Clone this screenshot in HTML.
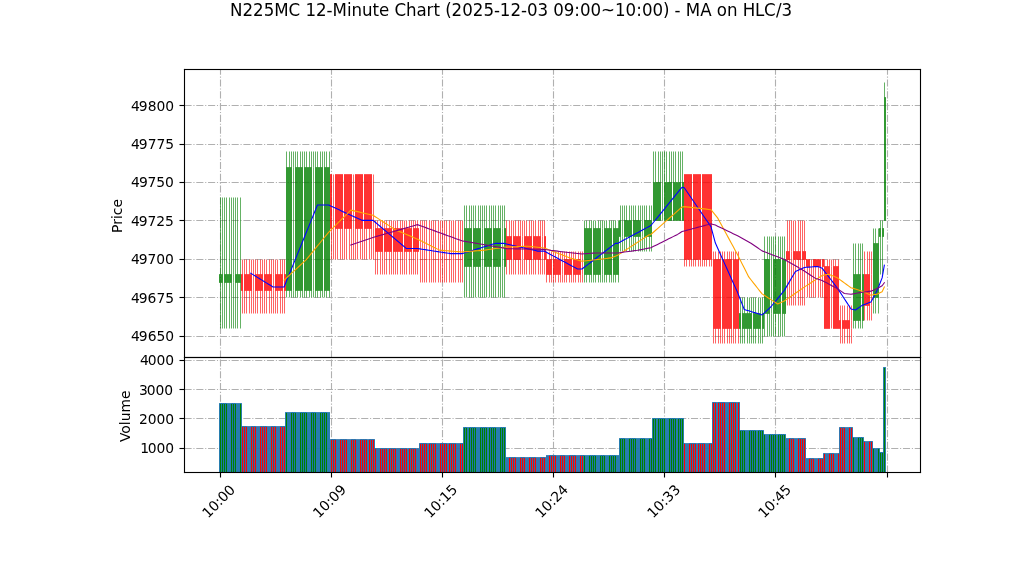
<!DOCTYPE html>
<html lang="en"><head><meta charset="utf-8"><title>N225MC 12-Minute Chart</title>
<style>
html,body{margin:0;padding:0;background:#fff;overflow:hidden}
svg{display:block;font-family:"DejaVu Sans","Liberation Sans",sans-serif}
</style></head><body>
<svg width="1022" height="575" viewBox="0 0 1022 575">
<defs><clipPath id="c1"><rect x="183.96" y="69.00" width="735.84" height="287.50"/></clipPath></defs>
<rect width="1022" height="575" fill="#fff"/>
<g id="grid" stroke="#b0b0b0" stroke-width="1.111" stroke-dasharray="7.111 1.778 1.111 1.778" fill="none"><line x1="220.5" y1="357.5" x2="220.5" y2="69.5"/><line x1="220.5" y1="472.5" x2="220.5" y2="357.5"/><line x1="331.5" y1="357.5" x2="331.5" y2="69.5"/><line x1="331.5" y1="472.5" x2="331.5" y2="357.5"/><line x1="442.5" y1="357.5" x2="442.5" y2="69.5"/><line x1="442.5" y1="472.5" x2="442.5" y2="357.5"/><line x1="553.5" y1="357.5" x2="553.5" y2="69.5"/><line x1="553.5" y1="472.5" x2="553.5" y2="357.5"/><line x1="664.5" y1="357.5" x2="664.5" y2="69.5"/><line x1="664.5" y1="472.5" x2="664.5" y2="357.5"/><line x1="775.5" y1="357.5" x2="775.5" y2="69.5"/><line x1="775.5" y1="472.5" x2="775.5" y2="357.5"/><line x1="887.5" y1="357.5" x2="887.5" y2="69.5"/><line x1="887.5" y1="472.5" x2="887.5" y2="357.5"/><line x1="184.5" y1="336.5" x2="920.5" y2="336.5"/><line x1="184.5" y1="297.5" x2="920.5" y2="297.5"/><line x1="184.5" y1="259.5" x2="920.5" y2="259.5"/><line x1="184.5" y1="220.5" x2="920.5" y2="220.5"/><line x1="184.5" y1="182.5" x2="920.5" y2="182.5"/><line x1="184.5" y1="144.5" x2="920.5" y2="144.5"/><line x1="184.5" y1="105.5" x2="920.5" y2="105.5"/><line x1="184.5" y1="448.5" x2="920.5" y2="448.5"/><line x1="184.5" y1="418.5" x2="920.5" y2="418.5"/><line x1="184.5" y1="389.5" x2="920.5" y2="389.5"/><line x1="184.5" y1="360.5" x2="920.5" y2="360.5"/></g>
<g id="candles" shape-rendering="crispEdges"><path fill="#ff6565" d="M242 260h1v14h-1zM242 291h1v22h-1zM244 261h1v13h-1zM244 291h1v5h-1zM244 299h1v14h-1zM246 261h1v13h-1zM246 291h1v5h-1zM246 299h1v14h-1zM249 261h1v13h-1zM249 291h1v5h-1zM249 299h1v14h-1zM251 260h1v14h-1zM251 291h1v22h-1zM253 261h1v13h-1zM253 275h1v15h-1zM253 291h1v5h-1zM253 299h1v14h-1zM255 261h1v13h-1zM255 291h1v5h-1zM255 299h1v14h-1zM257 261h1v13h-1zM257 291h1v5h-1zM257 299h1v14h-1zM260 261h1v13h-1zM260 291h1v5h-1zM260 299h1v14h-1zM262 261h1v13h-1zM262 291h1v5h-1zM262 299h1v14h-1zM264 261h1v13h-1zM264 291h1v5h-1zM264 299h1v14h-1zM266 261h1v13h-1zM266 291h1v5h-1zM266 299h1v14h-1zM269 261h1v13h-1zM269 291h1v5h-1zM269 299h1v14h-1zM271 261h1v13h-1zM271 291h1v5h-1zM271 299h1v14h-1zM273 261h1v13h-1zM273 275h1v15h-1zM273 291h1v5h-1zM273 299h1v14h-1zM275 261h1v13h-1zM275 291h1v5h-1zM275 299h1v14h-1zM277 260h1v14h-1zM277 291h1v22h-1zM280 261h1v13h-1zM280 291h1v5h-1zM280 299h1v14h-1zM282 261h1v13h-1zM282 291h1v5h-1zM282 299h1v14h-1zM284 261h1v13h-1zM284 291h1v5h-1zM284 299h1v14h-1zM331 231h1v1h-1zM331 240h1v1h-1zM331 243h1v1h-1zM331 252h1v1h-1zM331 255h1v1h-1zM333 175h1v53h-1zM333 229h1v30h-1zM335 229h1v29h-1zM337 229h1v29h-1zM340 229h1v29h-1zM342 229h1v29h-1zM344 229h1v29h-1zM346 229h1v29h-1zM349 229h1v29h-1zM351 229h1v29h-1zM353 175h1v6h-1zM353 184h1v35h-1zM353 222h1v6h-1zM353 229h1v29h-1zM355 229h1v29h-1zM357 229h1v30h-1zM360 229h1v30h-1zM362 229h1v29h-1zM364 229h1v29h-1zM366 229h1v29h-1zM369 229h1v30h-1zM371 229h1v29h-1zM373 175h1v6h-1zM373 184h1v35h-1zM373 222h1v6h-1zM373 229h1v29h-1zM375 222h1v6h-1zM375 252h1v6h-1zM375 261h1v13h-1zM377 222h1v6h-1zM377 252h1v6h-1zM377 261h1v13h-1zM380 222h1v6h-1zM380 252h1v6h-1zM380 261h1v13h-1zM382 222h1v6h-1zM382 252h1v6h-1zM382 261h1v13h-1zM384 222h1v6h-1zM384 252h1v6h-1zM384 261h1v13h-1zM386 222h1v6h-1zM386 252h1v6h-1zM386 261h1v13h-1zM389 222h1v6h-1zM389 252h1v6h-1zM389 261h1v13h-1zM391 222h1v6h-1zM391 252h1v6h-1zM391 261h1v13h-1zM393 222h1v6h-1zM393 252h1v6h-1zM393 261h1v13h-1zM395 221h1v7h-1zM395 252h1v22h-1zM397 222h1v6h-1zM397 252h1v6h-1zM397 261h1v13h-1zM400 222h1v6h-1zM400 252h1v6h-1zM400 261h1v13h-1zM402 222h1v6h-1zM402 252h1v6h-1zM402 261h1v13h-1zM404 221h1v7h-1zM404 252h1v22h-1zM406 222h1v6h-1zM406 252h1v6h-1zM406 261h1v13h-1zM409 222h1v6h-1zM409 252h1v6h-1zM409 261h1v13h-1zM411 222h1v6h-1zM411 252h1v6h-1zM411 261h1v13h-1zM413 222h1v6h-1zM413 252h1v6h-1zM413 261h1v13h-1zM415 222h1v6h-1zM415 252h1v6h-1zM415 261h1v13h-1zM417 222h1v6h-1zM417 252h1v6h-1zM417 261h1v13h-1zM420 222h1v36h-1zM420 261h1v21h-1zM422 222h1v36h-1zM422 261h1v21h-1zM424 222h1v36h-1zM424 261h1v21h-1zM426 222h1v36h-1zM426 261h1v21h-1zM429 222h1v36h-1zM429 261h1v21h-1zM431 222h1v36h-1zM431 261h1v21h-1zM433 222h1v36h-1zM433 261h1v21h-1zM435 222h1v36h-1zM435 261h1v21h-1zM438 222h1v36h-1zM438 261h1v21h-1zM440 222h1v36h-1zM440 261h1v21h-1zM442 228h1v1h-1zM442 231h1v1h-1zM442 240h1v1h-1zM442 243h1v1h-1zM442 252h1v1h-1zM442 255h1v1h-1zM442 264h1v1h-1zM442 278h1v1h-1zM444 222h1v36h-1zM444 261h1v21h-1zM446 222h1v36h-1zM446 261h1v21h-1zM449 222h1v36h-1zM449 261h1v21h-1zM451 221h1v38h-1zM451 260h1v22h-1zM453 222h1v36h-1zM453 261h1v21h-1zM455 222h1v36h-1zM455 261h1v21h-1zM458 222h1v36h-1zM458 261h1v21h-1zM460 222h1v36h-1zM460 261h1v21h-1zM462 222h1v36h-1zM462 261h1v21h-1zM506 222h1v14h-1zM506 261h1v13h-1zM509 222h1v14h-1zM509 261h1v13h-1zM511 222h1v14h-1zM511 261h1v13h-1zM513 221h1v15h-1zM513 260h1v14h-1zM515 222h1v14h-1zM515 261h1v13h-1zM518 222h1v14h-1zM518 261h1v13h-1zM520 222h1v14h-1zM520 261h1v13h-1zM522 221h1v15h-1zM522 237h1v22h-1zM522 260h1v14h-1zM524 222h1v14h-1zM524 261h1v13h-1zM526 222h1v14h-1zM526 261h1v13h-1zM529 222h1v14h-1zM529 261h1v13h-1zM531 222h1v14h-1zM531 261h1v13h-1zM533 222h1v14h-1zM533 261h1v13h-1zM535 222h1v14h-1zM535 261h1v13h-1zM538 222h1v14h-1zM538 261h1v13h-1zM540 222h1v14h-1zM540 261h1v13h-1zM542 222h1v14h-1zM542 237h1v21h-1zM542 261h1v13h-1zM544 222h1v14h-1zM544 261h1v13h-1zM546 252h1v6h-1zM546 275h1v7h-1zM549 252h1v6h-1zM549 275h1v7h-1zM551 252h1v6h-1zM551 275h1v7h-1zM553 252h1v1h-1zM553 255h1v1h-1zM553 278h1v1h-1zM555 252h1v6h-1zM555 275h1v7h-1zM558 252h1v6h-1zM558 275h1v7h-1zM560 252h1v7h-1zM560 275h1v7h-1zM562 252h1v6h-1zM562 261h1v13h-1zM562 275h1v7h-1zM564 252h1v6h-1zM564 275h1v7h-1zM566 252h1v6h-1zM566 275h1v7h-1zM569 252h1v7h-1zM569 275h1v7h-1zM571 252h1v6h-1zM571 275h1v7h-1zM573 252h1v6h-1zM573 275h1v7h-1zM575 252h1v6h-1zM575 275h1v7h-1zM578 252h1v6h-1zM578 275h1v7h-1zM580 252h1v6h-1zM580 275h1v7h-1zM582 252h1v6h-1zM582 261h1v13h-1zM582 275h1v7h-1zM684 261h1v5h-1zM686 261h1v5h-1zM689 261h1v5h-1zM691 261h1v5h-1zM693 261h1v5h-1zM695 261h1v5h-1zM698 261h1v5h-1zM700 261h1v5h-1zM702 261h1v5h-1zM704 261h1v5h-1zM706 261h1v5h-1zM709 261h1v5h-1zM711 261h1v5h-1zM713 252h1v7h-1zM713 329h1v14h-1zM715 252h1v6h-1zM715 329h1v6h-1zM715 338h1v5h-1zM718 252h1v6h-1zM718 329h1v6h-1zM718 338h1v5h-1zM720 252h1v6h-1zM720 329h1v6h-1zM720 338h1v5h-1zM722 252h1v7h-1zM722 329h1v14h-1zM724 252h1v6h-1zM724 329h1v6h-1zM724 338h1v5h-1zM727 252h1v6h-1zM727 329h1v6h-1zM727 338h1v5h-1zM729 252h1v6h-1zM729 329h1v6h-1zM729 338h1v5h-1zM731 252h1v6h-1zM731 329h1v6h-1zM731 338h1v5h-1zM733 252h1v6h-1zM733 329h1v6h-1zM733 338h1v5h-1zM735 252h1v6h-1zM735 329h1v6h-1zM735 338h1v5h-1zM738 252h1v6h-1zM738 329h1v6h-1zM738 338h1v5h-1zM787 222h1v29h-1zM787 261h1v35h-1zM787 299h1v6h-1zM789 222h1v29h-1zM789 261h1v35h-1zM789 299h1v6h-1zM791 222h1v29h-1zM791 252h1v6h-1zM791 261h1v35h-1zM791 299h1v6h-1zM793 221h1v30h-1zM793 260h1v45h-1zM795 222h1v29h-1zM795 261h1v35h-1zM795 299h1v6h-1zM798 222h1v29h-1zM798 261h1v35h-1zM798 299h1v6h-1zM800 222h1v29h-1zM800 261h1v35h-1zM800 299h1v6h-1zM802 222h1v29h-1zM802 261h1v35h-1zM802 299h1v6h-1zM804 222h1v29h-1zM804 261h1v35h-1zM804 299h1v6h-1zM807 267h1v30h-1zM809 267h1v29h-1zM811 261h1v5h-1zM811 267h1v29h-1zM813 267h1v29h-1zM815 267h1v29h-1zM818 267h1v29h-1zM820 267h1v29h-1zM822 267h1v29h-1zM824 261h1v5h-1zM827 261h1v5h-1zM829 261h1v5h-1zM831 260h1v6h-1zM831 267h1v61h-1zM833 261h1v5h-1zM835 261h1v5h-1zM838 261h1v5h-1zM840 306h1v14h-1zM840 329h1v14h-1zM842 306h1v14h-1zM842 329h1v6h-1zM842 338h1v5h-1zM844 306h1v14h-1zM844 329h1v6h-1zM844 338h1v5h-1zM847 306h1v14h-1zM847 329h1v6h-1zM847 338h1v5h-1zM849 306h1v14h-1zM849 329h1v6h-1zM849 338h1v5h-1zM851 306h1v14h-1zM851 321h1v7h-1zM851 329h1v6h-1zM851 338h1v5h-1zM864 252h1v6h-1zM864 261h1v13h-1zM864 306h1v14h-1zM867 252h1v6h-1zM867 261h1v13h-1zM867 306h1v14h-1zM869 252h1v6h-1zM869 261h1v13h-1zM869 306h1v14h-1zM871 252h1v6h-1zM871 261h1v13h-1zM871 275h1v21h-1zM871 299h1v6h-1zM871 306h1v14h-1z"/>
<path fill="#65b265" d="M220 205h1v1h-1zM220 208h1v1h-1zM220 228h1v1h-1zM220 231h1v1h-1zM220 240h1v1h-1zM220 243h1v1h-1zM220 252h1v1h-1zM220 255h1v1h-1zM220 264h1v1h-1zM220 287h1v1h-1zM220 290h1v1h-1zM220 299h1v1h-1zM220 302h1v1h-1zM220 311h1v1h-1zM220 314h1v1h-1zM222 198h1v21h-1zM222 222h1v36h-1zM222 261h1v13h-1zM222 283h1v13h-1zM222 299h1v29h-1zM224 198h1v21h-1zM224 222h1v36h-1zM224 261h1v13h-1zM224 283h1v13h-1zM224 299h1v29h-1zM226 198h1v21h-1zM226 222h1v36h-1zM226 261h1v13h-1zM226 283h1v13h-1zM226 299h1v29h-1zM229 198h1v21h-1zM229 222h1v36h-1zM229 261h1v13h-1zM229 283h1v13h-1zM229 299h1v29h-1zM231 198h1v21h-1zM231 222h1v36h-1zM231 261h1v13h-1zM231 283h1v13h-1zM231 299h1v29h-1zM233 198h1v21h-1zM233 222h1v36h-1zM233 261h1v13h-1zM233 275h1v7h-1zM233 283h1v13h-1zM233 299h1v29h-1zM235 198h1v21h-1zM235 222h1v36h-1zM235 261h1v13h-1zM235 283h1v13h-1zM235 299h1v29h-1zM237 198h1v21h-1zM237 222h1v36h-1zM237 261h1v13h-1zM237 283h1v13h-1zM237 299h1v29h-1zM240 198h1v21h-1zM240 222h1v36h-1zM240 261h1v13h-1zM240 283h1v13h-1zM240 299h1v29h-1zM286 152h1v15h-1zM286 291h1v6h-1zM289 152h1v15h-1zM289 291h1v6h-1zM291 152h1v15h-1zM291 291h1v5h-1zM293 152h1v15h-1zM293 168h1v13h-1zM293 184h1v35h-1zM293 222h1v36h-1zM293 261h1v29h-1zM293 291h1v5h-1zM295 152h1v15h-1zM295 291h1v5h-1zM297 152h1v15h-1zM297 291h1v5h-1zM300 152h1v15h-1zM300 291h1v5h-1zM302 152h1v15h-1zM302 291h1v5h-1zM304 152h1v15h-1zM304 291h1v5h-1zM306 152h1v15h-1zM306 291h1v5h-1zM309 152h1v15h-1zM309 291h1v5h-1zM311 152h1v15h-1zM311 291h1v5h-1zM313 152h1v15h-1zM313 168h1v122h-1zM313 291h1v6h-1zM315 152h1v15h-1zM315 291h1v5h-1zM317 152h1v15h-1zM317 291h1v5h-1zM320 152h1v15h-1zM320 291h1v5h-1zM322 152h1v15h-1zM322 291h1v5h-1zM324 152h1v15h-1zM324 291h1v5h-1zM326 152h1v15h-1zM326 291h1v5h-1zM329 152h1v15h-1zM329 291h1v5h-1zM464 206h1v13h-1zM464 222h1v6h-1zM464 267h1v29h-1zM466 206h1v22h-1zM466 267h1v30h-1zM469 206h1v13h-1zM469 222h1v6h-1zM469 267h1v29h-1zM471 206h1v13h-1zM471 222h1v6h-1zM471 267h1v29h-1zM473 206h1v13h-1zM473 222h1v6h-1zM473 267h1v29h-1zM475 206h1v22h-1zM475 267h1v30h-1zM478 206h1v13h-1zM478 222h1v6h-1zM478 267h1v29h-1zM480 206h1v13h-1zM480 222h1v6h-1zM480 267h1v29h-1zM482 206h1v13h-1zM482 222h1v6h-1zM482 229h1v29h-1zM482 261h1v5h-1zM482 267h1v29h-1zM484 206h1v13h-1zM484 222h1v6h-1zM484 267h1v29h-1zM486 206h1v13h-1zM486 222h1v6h-1zM486 267h1v29h-1zM489 206h1v22h-1zM489 267h1v30h-1zM491 206h1v13h-1zM491 222h1v6h-1zM491 267h1v29h-1zM493 206h1v13h-1zM493 222h1v6h-1zM493 267h1v29h-1zM495 206h1v13h-1zM495 222h1v6h-1zM495 267h1v29h-1zM498 206h1v22h-1zM498 267h1v30h-1zM500 206h1v13h-1zM500 222h1v6h-1zM500 267h1v29h-1zM502 206h1v13h-1zM502 222h1v6h-1zM502 229h1v29h-1zM502 261h1v5h-1zM502 267h1v29h-1zM504 206h1v13h-1zM504 222h1v6h-1zM504 267h1v29h-1zM584 222h1v6h-1zM584 275h1v7h-1zM586 222h1v6h-1zM586 275h1v7h-1zM589 222h1v6h-1zM589 275h1v7h-1zM591 222h1v6h-1zM591 275h1v7h-1zM593 222h1v6h-1zM593 275h1v7h-1zM595 221h1v7h-1zM595 275h1v7h-1zM598 222h1v6h-1zM598 275h1v7h-1zM600 222h1v6h-1zM600 275h1v7h-1zM602 222h1v6h-1zM602 229h1v29h-1zM602 261h1v13h-1zM602 275h1v7h-1zM604 221h1v7h-1zM604 275h1v7h-1zM606 222h1v6h-1zM606 275h1v7h-1zM609 222h1v6h-1zM609 275h1v7h-1zM611 222h1v6h-1zM611 275h1v7h-1zM613 222h1v6h-1zM613 275h1v7h-1zM615 222h1v6h-1zM615 275h1v7h-1zM618 222h1v6h-1zM618 275h1v7h-1zM620 206h1v13h-1zM620 237h1v14h-1zM622 206h1v13h-1zM622 222h1v14h-1zM622 237h1v14h-1zM624 206h1v13h-1zM624 237h1v14h-1zM626 206h1v13h-1zM626 237h1v14h-1zM629 206h1v13h-1zM629 237h1v14h-1zM631 206h1v14h-1zM631 237h1v14h-1zM633 206h1v13h-1zM633 237h1v14h-1zM635 206h1v13h-1zM635 237h1v14h-1zM638 206h1v13h-1zM638 237h1v14h-1zM640 206h1v13h-1zM640 237h1v14h-1zM642 206h1v13h-1zM642 222h1v14h-1zM642 237h1v14h-1zM644 206h1v13h-1zM644 237h1v14h-1zM646 206h1v13h-1zM646 237h1v14h-1zM649 206h1v13h-1zM649 237h1v14h-1zM651 206h1v14h-1zM651 237h1v14h-1zM653 152h1v29h-1zM655 152h1v29h-1zM658 152h1v29h-1zM660 152h1v29h-1zM662 152h1v29h-1zM662 184h1v35h-1zM664 158h1v1h-1zM664 172h1v1h-1zM666 152h1v30h-1zM669 152h1v29h-1zM671 152h1v29h-1zM673 152h1v29h-1zM675 152h1v30h-1zM678 152h1v30h-1zM680 152h1v29h-1zM682 152h1v29h-1zM740 299h1v14h-1zM740 329h1v6h-1zM740 338h1v5h-1zM742 299h1v14h-1zM742 329h1v6h-1zM742 338h1v5h-1zM744 299h1v14h-1zM744 329h1v6h-1zM744 338h1v5h-1zM747 299h1v14h-1zM747 329h1v6h-1zM747 338h1v5h-1zM749 299h1v14h-1zM749 329h1v6h-1zM749 338h1v5h-1zM751 299h1v14h-1zM751 329h1v6h-1zM751 338h1v5h-1zM753 299h1v14h-1zM753 329h1v6h-1zM753 338h1v5h-1zM755 299h1v14h-1zM755 329h1v6h-1zM755 338h1v5h-1zM758 299h1v14h-1zM758 329h1v6h-1zM758 338h1v5h-1zM760 298h1v15h-1zM760 329h1v14h-1zM762 299h1v14h-1zM762 329h1v6h-1zM762 338h1v5h-1zM764 237h1v21h-1zM764 314h1v21h-1zM767 237h1v21h-1zM767 314h1v21h-1zM769 237h1v22h-1zM769 314h1v22h-1zM771 237h1v21h-1zM771 261h1v35h-1zM771 299h1v14h-1zM771 314h1v21h-1zM773 237h1v21h-1zM773 314h1v21h-1zM775 240h1v1h-1zM775 243h1v1h-1zM775 252h1v1h-1zM775 255h1v1h-1zM775 314h1v1h-1zM775 334h1v1h-1zM778 237h1v21h-1zM778 314h1v21h-1zM780 237h1v21h-1zM780 314h1v21h-1zM782 237h1v21h-1zM782 314h1v21h-1zM784 237h1v22h-1zM784 314h1v22h-1zM853 244h1v14h-1zM853 261h1v13h-1zM853 321h1v7h-1zM855 244h1v14h-1zM855 261h1v13h-1zM855 321h1v7h-1zM858 244h1v14h-1zM858 261h1v13h-1zM858 321h1v7h-1zM860 244h1v14h-1zM860 261h1v13h-1zM860 321h1v7h-1zM862 244h1v14h-1zM862 261h1v13h-1zM862 321h1v7h-1zM873 229h1v14h-1zM873 299h1v14h-1zM875 229h1v14h-1zM875 298h1v15h-1zM878 229h1v14h-1zM878 298h1v15h-1zM880 222h1v6h-1zM880 237h1v21h-1zM880 261h1v13h-1zM882 222h1v6h-1zM882 237h1v21h-1zM882 261h1v13h-1zM884 83h1v14h-1z"/>
<path fill="#fd6363" d="M244 260h1v1h-1zM244 296h1v1h-1zM244 298h1v1h-1zM246 260h1v1h-1zM246 296h1v1h-1zM246 298h1v1h-1zM249 260h1v1h-1zM249 296h1v1h-1zM249 298h1v1h-1zM255 260h1v1h-1zM255 296h1v1h-1zM255 298h1v1h-1zM257 260h1v1h-1zM257 296h1v1h-1zM257 298h1v1h-1zM260 260h1v1h-1zM260 296h1v1h-1zM260 298h1v1h-1zM264 260h1v1h-1zM264 296h1v1h-1zM264 298h1v1h-1zM266 297h1v1h-1zM269 260h1v1h-1zM269 296h1v1h-1zM269 298h1v1h-1zM271 260h1v1h-1zM271 296h1v1h-1zM271 298h1v1h-1zM273 260h1v1h-1zM273 296h1v1h-1zM273 298h1v1h-1zM280 260h1v1h-1zM280 296h1v1h-1zM280 298h1v1h-1zM282 260h1v1h-1zM282 296h1v1h-1zM282 298h1v1h-1zM284 260h1v1h-1zM284 296h1v1h-1zM284 298h1v1h-1zM335 258h1v1h-1zM340 258h1v1h-1zM342 258h1v1h-1zM344 258h1v1h-1zM351 258h1v1h-1zM353 181h1v1h-1zM353 183h1v1h-1zM353 219h1v1h-1zM353 221h1v1h-1zM353 258h1v1h-1zM355 258h1v1h-1zM362 258h1v1h-1zM364 258h1v1h-1zM366 258h1v1h-1zM373 181h1v1h-1zM373 183h1v1h-1zM373 219h1v1h-1zM373 221h1v1h-1zM373 258h1v1h-1zM375 221h1v1h-1zM375 258h1v1h-1zM375 260h1v1h-1zM377 221h1v1h-1zM377 258h1v1h-1zM377 260h1v1h-1zM380 259h1v1h-1zM382 221h1v1h-1zM382 258h1v1h-1zM382 260h1v1h-1zM386 221h1v1h-1zM386 258h1v1h-1zM386 260h1v1h-1zM389 221h1v1h-1zM389 258h1v1h-1zM389 260h1v1h-1zM391 221h1v1h-1zM391 258h1v1h-1zM391 260h1v1h-1zM397 221h1v1h-1zM397 258h1v1h-1zM397 260h1v1h-1zM400 221h1v1h-1zM400 258h1v1h-1zM400 260h1v1h-1zM402 221h1v1h-1zM402 258h1v1h-1zM402 260h1v1h-1zM409 221h1v1h-1zM409 258h1v1h-1zM409 260h1v1h-1zM411 221h1v1h-1zM411 258h1v1h-1zM411 260h1v1h-1zM413 221h1v1h-1zM413 258h1v1h-1zM413 260h1v1h-1zM417 221h1v1h-1zM417 258h1v1h-1zM417 260h1v1h-1zM420 221h1v1h-1zM420 258h1v1h-1zM420 260h1v1h-1zM422 221h1v1h-1zM422 258h1v1h-1zM422 260h1v1h-1zM424 221h1v1h-1zM424 258h1v1h-1zM424 260h1v1h-1zM426 221h1v1h-1zM426 258h1v1h-1zM426 260h1v1h-1zM429 221h1v1h-1zM429 258h1v1h-1zM429 260h1v1h-1zM433 221h1v1h-1zM433 258h1v1h-1zM433 260h1v1h-1zM435 221h1v1h-1zM435 258h1v1h-1zM435 260h1v1h-1zM438 221h1v1h-1zM438 258h1v1h-1zM438 260h1v1h-1zM442 267h1v1h-1zM442 275h1v1h-1zM444 221h1v1h-1zM444 258h1v1h-1zM444 260h1v1h-1zM446 221h1v1h-1zM446 258h1v1h-1zM446 260h1v1h-1zM449 221h1v1h-1zM449 258h1v1h-1zM449 260h1v1h-1zM458 221h1v1h-1zM458 258h1v1h-1zM458 260h1v1h-1zM460 221h1v1h-1zM460 258h1v1h-1zM460 260h1v1h-1zM506 221h1v1h-1zM506 260h1v1h-1zM515 221h1v1h-1zM515 260h1v1h-1zM518 221h1v1h-1zM518 260h1v1h-1zM520 221h1v1h-1zM520 260h1v1h-1zM526 221h1v1h-1zM526 260h1v1h-1zM529 221h1v1h-1zM529 260h1v1h-1zM531 221h1v1h-1zM531 260h1v1h-1zM535 221h1v1h-1zM535 260h1v1h-1zM538 221h1v1h-1zM538 260h1v1h-1zM540 221h1v1h-1zM540 260h1v1h-1zM542 221h1v1h-1zM542 258h1v1h-1zM542 260h1v1h-1zM544 221h1v1h-1zM544 260h1v1h-1zM551 258h1v1h-1zM553 275h1v1h-1zM555 258h1v1h-1zM562 258h1v1h-1zM562 260h1v1h-1zM564 258h1v1h-1zM566 258h1v1h-1zM573 258h1v1h-1zM575 258h1v1h-1zM578 258h1v1h-1zM582 258h1v1h-1zM582 260h1v1h-1zM684 260h1v1h-1zM691 260h1v1h-1zM693 260h1v1h-1zM695 260h1v1h-1zM700 260h1v1h-1zM704 260h1v1h-1zM706 260h1v1h-1zM709 260h1v1h-1zM715 258h1v1h-1zM715 335h1v1h-1zM715 337h1v1h-1zM718 258h1v1h-1zM718 335h1v1h-1zM718 337h1v1h-1zM720 258h1v1h-1zM720 335h1v1h-1zM720 337h1v1h-1zM727 258h1v1h-1zM727 335h1v1h-1zM727 337h1v1h-1zM729 258h1v1h-1zM729 335h1v1h-1zM729 337h1v1h-1zM731 258h1v1h-1zM731 335h1v1h-1zM731 337h1v1h-1zM735 258h1v1h-1zM735 335h1v1h-1zM735 337h1v1h-1zM738 258h1v1h-1zM738 335h1v1h-1zM738 337h1v1h-1zM787 221h1v1h-1zM787 260h1v1h-1zM787 296h1v1h-1zM787 298h1v1h-1zM789 221h1v1h-1zM789 260h1v1h-1zM789 296h1v1h-1zM789 298h1v1h-1zM791 221h1v1h-1zM791 258h1v1h-1zM791 260h1v1h-1zM791 296h1v1h-1zM791 298h1v1h-1zM798 221h1v1h-1zM798 260h1v1h-1zM798 296h1v1h-1zM798 298h1v1h-1zM800 221h1v1h-1zM800 260h1v1h-1zM800 296h1v1h-1zM800 298h1v1h-1zM802 221h1v1h-1zM802 260h1v1h-1zM802 296h1v1h-1zM802 298h1v1h-1zM804 297h1v1h-1zM809 296h1v1h-1zM811 260h1v1h-1zM811 296h1v1h-1zM813 296h1v1h-1zM815 296h1v1h-1zM818 296h1v1h-1zM822 296h1v1h-1zM824 260h1v1h-1zM833 260h1v1h-1zM835 260h1v1h-1zM838 260h1v1h-1zM844 335h1v1h-1zM844 337h1v1h-1zM847 335h1v1h-1zM847 337h1v1h-1zM849 335h1v1h-1zM849 337h1v1h-1zM869 258h1v1h-1zM869 260h1v1h-1zM871 258h1v1h-1zM871 260h1v1h-1zM871 296h1v1h-1zM871 298h1v1h-1z"/>
<path fill="#ffb2b2" d="M242 259h1v1h-1zM242 313h1v1h-1zM244 313h1v1h-1zM246 313h1v1h-1zM249 313h1v1h-1zM251 259h1v1h-1zM251 313h1v1h-1zM253 313h1v1h-1zM255 313h1v1h-1zM257 313h1v1h-1zM260 313h1v1h-1zM262 313h1v1h-1zM264 313h1v1h-1zM266 313h1v1h-1zM269 313h1v1h-1zM271 313h1v1h-1zM273 313h1v1h-1zM275 313h1v1h-1zM277 259h1v1h-1zM277 313h1v1h-1zM280 313h1v1h-1zM282 313h1v1h-1zM284 313h1v1h-1zM333 174h1v1h-1zM333 259h1v1h-1zM353 174h1v1h-1zM357 259h1v1h-1zM360 259h1v1h-1zM369 259h1v1h-1zM373 174h1v1h-1zM375 274h1v1h-1zM377 274h1v1h-1zM380 274h1v1h-1zM382 274h1v1h-1zM384 274h1v1h-1zM386 274h1v1h-1zM389 274h1v1h-1zM391 274h1v1h-1zM393 274h1v1h-1zM395 220h1v1h-1zM395 274h1v1h-1zM397 274h1v1h-1zM400 274h1v1h-1zM402 274h1v1h-1zM404 220h1v1h-1zM404 274h1v1h-1zM406 274h1v1h-1zM409 274h1v1h-1zM411 274h1v1h-1zM413 274h1v1h-1zM415 274h1v1h-1zM417 274h1v1h-1zM419 259h1v1h-1zM420 282h1v1h-1zM422 282h1v1h-1zM424 282h1v1h-1zM426 282h1v1h-1zM429 282h1v1h-1zM431 282h1v1h-1zM433 282h1v1h-1zM435 282h1v1h-1zM438 282h1v1h-1zM439 259h1v1h-1zM440 282h1v1h-1zM444 282h1v1h-1zM446 282h1v1h-1zM449 282h1v1h-1zM451 220h1v1h-1zM451 282h1v1h-1zM453 282h1v1h-1zM454 259h1v1h-1zM455 282h1v1h-1zM458 282h1v1h-1zM460 282h1v1h-1zM462 282h1v1h-1zM506 274h1v1h-1zM509 274h1v1h-1zM511 274h1v1h-1zM513 220h1v1h-1zM513 274h1v1h-1zM515 274h1v1h-1zM518 274h1v1h-1zM520 274h1v1h-1zM522 220h1v1h-1zM522 274h1v1h-1zM524 274h1v1h-1zM526 274h1v1h-1zM529 274h1v1h-1zM531 274h1v1h-1zM533 274h1v1h-1zM535 274h1v1h-1zM538 274h1v1h-1zM540 274h1v1h-1zM542 274h1v1h-1zM544 274h1v1h-1zM546 251h1v1h-1zM546 282h1v1h-1zM549 251h1v1h-1zM549 282h1v1h-1zM551 251h1v1h-1zM551 282h1v1h-1zM555 251h1v1h-1zM555 282h1v1h-1zM558 251h1v1h-1zM558 282h1v1h-1zM560 251h1v1h-1zM560 282h1v1h-1zM562 251h1v1h-1zM562 282h1v1h-1zM564 251h1v1h-1zM564 282h1v1h-1zM566 251h1v1h-1zM566 282h1v1h-1zM569 251h1v1h-1zM569 282h1v1h-1zM571 251h1v1h-1zM571 282h1v1h-1zM573 251h1v1h-1zM573 282h1v1h-1zM575 251h1v1h-1zM575 282h1v1h-1zM578 251h1v1h-1zM578 282h1v1h-1zM580 251h1v1h-1zM580 282h1v1h-1zM582 251h1v1h-1zM582 282h1v1h-1zM684 266h1v1h-1zM686 266h1v1h-1zM689 266h1v1h-1zM691 266h1v1h-1zM693 266h1v1h-1zM695 266h1v1h-1zM698 266h1v1h-1zM700 266h1v1h-1zM702 266h1v1h-1zM704 266h1v1h-1zM706 266h1v1h-1zM709 266h1v1h-1zM711 266h1v1h-1zM713 251h1v1h-1zM713 343h1v1h-1zM715 251h1v1h-1zM715 343h1v1h-1zM718 251h1v1h-1zM718 343h1v1h-1zM720 251h1v1h-1zM720 343h1v1h-1zM722 251h1v1h-1zM722 343h1v1h-1zM724 251h1v1h-1zM724 343h1v1h-1zM727 251h1v1h-1zM727 343h1v1h-1zM729 251h1v1h-1zM729 343h1v1h-1zM731 251h1v1h-1zM731 343h1v1h-1zM733 251h1v1h-1zM733 343h1v1h-1zM735 251h1v1h-1zM735 343h1v1h-1zM738 251h1v1h-1zM738 343h1v1h-1zM787 305h1v1h-1zM789 305h1v1h-1zM791 305h1v1h-1zM793 220h1v1h-1zM793 305h1v1h-1zM795 305h1v1h-1zM798 305h1v1h-1zM800 305h1v1h-1zM802 305h1v1h-1zM804 305h1v1h-1zM807 297h1v1h-1zM831 259h1v1h-1zM831 328h1v1h-1zM840 305h1v1h-1zM840 343h1v1h-1zM842 305h1v1h-1zM842 343h1v1h-1zM844 305h1v1h-1zM844 343h1v1h-1zM847 305h1v1h-1zM847 343h1v1h-1zM849 305h1v1h-1zM849 343h1v1h-1zM851 305h1v1h-1zM851 343h1v1h-1zM864 251h1v1h-1zM864 320h1v1h-1zM867 251h1v1h-1zM867 320h1v1h-1zM869 251h1v1h-1zM869 320h1v1h-1zM871 251h1v1h-1zM871 320h1v1h-1z"/>
<path fill="#63b063" d="M220 217h1v1h-1zM220 267h1v1h-1zM220 323h1v1h-1zM220 325h1v1h-1zM222 219h1v1h-1zM222 221h1v1h-1zM222 258h1v1h-1zM222 260h1v1h-1zM222 296h1v1h-1zM222 298h1v1h-1zM224 219h1v1h-1zM224 221h1v1h-1zM224 258h1v1h-1zM224 260h1v1h-1zM224 296h1v1h-1zM224 298h1v1h-1zM226 219h1v1h-1zM226 221h1v1h-1zM226 258h1v1h-1zM226 260h1v1h-1zM226 296h1v1h-1zM226 298h1v1h-1zM229 219h1v1h-1zM229 221h1v1h-1zM229 258h1v1h-1zM229 260h1v1h-1zM229 296h1v1h-1zM229 298h1v1h-1zM233 219h1v1h-1zM233 221h1v1h-1zM233 258h1v1h-1zM233 260h1v1h-1zM233 296h1v1h-1zM233 298h1v1h-1zM235 219h1v1h-1zM235 221h1v1h-1zM235 258h1v1h-1zM235 260h1v1h-1zM235 296h1v1h-1zM235 298h1v1h-1zM237 219h1v1h-1zM237 221h1v1h-1zM237 258h1v1h-1zM237 260h1v1h-1zM237 296h1v1h-1zM237 298h1v1h-1zM291 296h1v1h-1zM293 181h1v1h-1zM293 183h1v1h-1zM293 219h1v1h-1zM293 221h1v1h-1zM293 258h1v1h-1zM293 260h1v1h-1zM293 296h1v1h-1zM295 296h1v1h-1zM302 296h1v1h-1zM304 296h1v1h-1zM306 296h1v1h-1zM311 296h1v1h-1zM315 296h1v1h-1zM317 296h1v1h-1zM320 296h1v1h-1zM326 296h1v1h-1zM329 296h1v1h-1zM464 219h1v1h-1zM464 221h1v1h-1zM464 296h1v1h-1zM469 219h1v1h-1zM469 221h1v1h-1zM469 296h1v1h-1zM471 219h1v1h-1zM471 221h1v1h-1zM471 296h1v1h-1zM473 219h1v1h-1zM473 221h1v1h-1zM473 296h1v1h-1zM478 220h1v1h-1zM480 219h1v1h-1zM480 221h1v1h-1zM480 296h1v1h-1zM482 219h1v1h-1zM482 221h1v1h-1zM482 258h1v1h-1zM482 260h1v1h-1zM482 296h1v1h-1zM484 219h1v1h-1zM484 221h1v1h-1zM484 296h1v1h-1zM486 220h1v1h-1zM491 219h1v1h-1zM491 221h1v1h-1zM491 296h1v1h-1zM493 219h1v1h-1zM493 221h1v1h-1zM493 296h1v1h-1zM495 219h1v1h-1zM495 221h1v1h-1zM495 296h1v1h-1zM500 219h1v1h-1zM500 221h1v1h-1zM500 296h1v1h-1zM504 219h1v1h-1zM504 221h1v1h-1zM504 296h1v1h-1zM586 221h1v1h-1zM589 221h1v1h-1zM591 221h1v1h-1zM598 221h1v1h-1zM600 221h1v1h-1zM602 221h1v1h-1zM602 258h1v1h-1zM602 260h1v1h-1zM606 221h1v1h-1zM609 221h1v1h-1zM611 221h1v1h-1zM613 221h1v1h-1zM620 219h1v1h-1zM622 219h1v1h-1zM622 221h1v1h-1zM624 219h1v1h-1zM626 219h1v1h-1zM629 219h1v1h-1zM633 219h1v1h-1zM635 219h1v1h-1zM638 219h1v1h-1zM644 219h1v1h-1zM646 219h1v1h-1zM649 219h1v1h-1zM653 181h1v1h-1zM658 181h1v1h-1zM660 181h1v1h-1zM662 181h1v1h-1zM662 183h1v1h-1zM662 219h1v1h-1zM664 161h1v1h-1zM664 169h1v1h-1zM669 181h1v1h-1zM671 181h1v1h-1zM673 181h1v1h-1zM680 181h1v1h-1zM682 181h1v1h-1zM740 298h1v1h-1zM740 335h1v1h-1zM740 337h1v1h-1zM742 298h1v1h-1zM742 335h1v1h-1zM742 337h1v1h-1zM744 298h1v1h-1zM744 335h1v1h-1zM744 337h1v1h-1zM747 298h1v1h-1zM747 335h1v1h-1zM747 337h1v1h-1zM751 298h1v1h-1zM751 335h1v1h-1zM751 337h1v1h-1zM753 298h1v1h-1zM753 335h1v1h-1zM753 337h1v1h-1zM755 298h1v1h-1zM755 335h1v1h-1zM755 337h1v1h-1zM762 298h1v1h-1zM762 335h1v1h-1zM762 337h1v1h-1zM764 258h1v1h-1zM764 335h1v1h-1zM767 258h1v1h-1zM767 335h1v1h-1zM775 323h1v1h-1zM775 325h1v1h-1zM778 258h1v1h-1zM778 335h1v1h-1zM782 258h1v1h-1zM782 335h1v1h-1zM853 258h1v1h-1zM853 260h1v1h-1zM858 258h1v1h-1zM858 260h1v1h-1zM860 258h1v1h-1zM860 260h1v1h-1zM862 258h1v1h-1zM862 260h1v1h-1zM873 298h1v1h-1zM880 221h1v1h-1zM880 258h1v1h-1zM880 260h1v1h-1zM882 221h1v1h-1zM882 258h1v1h-1zM882 260h1v1h-1z"/>
<path fill="#379b37" d="M222 274h1v1h-1zM222 282h1v1h-1zM224 274h1v1h-1zM224 282h1v1h-1zM226 274h1v1h-1zM226 282h1v1h-1zM229 274h1v1h-1zM229 282h1v1h-1zM231 274h1v1h-1zM231 282h1v1h-1zM235 274h1v1h-1zM235 282h1v1h-1zM237 274h1v1h-1zM237 282h1v1h-1zM240 274h1v1h-1zM240 282h1v1h-1zM286 167h1v1h-1zM286 290h1v1h-1zM289 167h1v1h-1zM289 290h1v1h-1zM291 167h1v1h-1zM291 290h1v1h-1zM295 167h1v1h-1zM295 290h1v1h-1zM297 167h1v1h-1zM297 290h1v1h-1zM300 167h1v1h-1zM300 290h1v1h-1zM302 167h1v1h-1zM302 290h1v1h-1zM304 167h1v1h-1zM304 290h1v1h-1zM306 167h1v1h-1zM306 290h1v1h-1zM309 167h1v1h-1zM309 290h1v1h-1zM311 167h1v1h-1zM311 290h1v1h-1zM315 167h1v1h-1zM315 290h1v1h-1zM317 167h1v1h-1zM317 290h1v1h-1zM320 167h1v1h-1zM320 290h1v1h-1zM322 167h1v1h-1zM322 290h1v1h-1zM324 167h1v1h-1zM324 290h1v1h-1zM326 167h1v1h-1zM326 290h1v1h-1zM329 167h1v1h-1zM329 290h1v1h-1zM464 228h1v1h-1zM464 266h1v1h-1zM466 228h1v1h-1zM466 266h1v1h-1zM469 228h1v1h-1zM469 266h1v1h-1zM471 228h1v1h-1zM471 266h1v1h-1zM473 228h1v1h-1zM473 266h1v1h-1zM475 228h1v1h-1zM475 266h1v1h-1zM478 228h1v1h-1zM478 266h1v1h-1zM480 228h1v1h-1zM480 266h1v1h-1zM484 228h1v1h-1zM484 266h1v1h-1zM486 228h1v1h-1zM486 266h1v1h-1zM489 228h1v1h-1zM489 266h1v1h-1zM491 228h1v1h-1zM491 266h1v1h-1zM493 228h1v1h-1zM493 266h1v1h-1zM495 228h1v1h-1zM495 266h1v1h-1zM498 228h1v1h-1zM498 266h1v1h-1zM500 228h1v1h-1zM500 266h1v1h-1zM504 228h1v1h-1zM504 266h1v1h-1zM584 228h1v1h-1zM584 274h1v1h-1zM586 228h1v1h-1zM586 274h1v1h-1zM589 228h1v1h-1zM589 274h1v1h-1zM591 228h1v1h-1zM591 274h1v1h-1zM593 228h1v1h-1zM593 274h1v1h-1zM595 228h1v1h-1zM595 274h1v1h-1zM598 228h1v1h-1zM598 274h1v1h-1zM600 228h1v1h-1zM600 274h1v1h-1zM604 228h1v1h-1zM604 274h1v1h-1zM606 228h1v1h-1zM606 274h1v1h-1zM609 228h1v1h-1zM609 274h1v1h-1zM611 228h1v1h-1zM611 274h1v1h-1zM613 228h1v1h-1zM613 274h1v1h-1zM615 228h1v1h-1zM615 274h1v1h-1zM618 228h1v1h-1zM618 274h1v1h-1zM620 236h1v1h-1zM624 236h1v1h-1zM626 236h1v1h-1zM629 236h1v1h-1zM631 220h1v1h-1zM631 236h1v1h-1zM633 236h1v1h-1zM635 236h1v1h-1zM638 236h1v1h-1zM640 236h1v1h-1zM644 236h1v1h-1zM646 236h1v1h-1zM649 236h1v1h-1zM651 220h1v1h-1zM651 236h1v1h-1zM666 182h1v1h-1zM675 182h1v1h-1zM678 182h1v1h-1zM740 313h1v1h-1zM740 328h1v1h-1zM742 313h1v1h-1zM742 328h1v1h-1zM744 313h1v1h-1zM744 328h1v1h-1zM747 313h1v1h-1zM747 328h1v1h-1zM749 313h1v1h-1zM749 328h1v1h-1zM751 313h1v1h-1zM751 328h1v1h-1zM753 313h1v1h-1zM753 328h1v1h-1zM755 313h1v1h-1zM755 328h1v1h-1zM758 313h1v1h-1zM758 328h1v1h-1zM760 313h1v1h-1zM760 328h1v1h-1zM762 313h1v1h-1zM762 328h1v1h-1zM764 313h1v1h-1zM767 313h1v1h-1zM769 259h1v1h-1zM769 313h1v1h-1zM773 313h1v1h-1zM778 313h1v1h-1zM780 313h1v1h-1zM782 313h1v1h-1zM784 259h1v1h-1zM784 313h1v1h-1zM853 274h1v1h-1zM853 320h1v1h-1zM855 274h1v1h-1zM855 320h1v1h-1zM858 274h1v1h-1zM858 320h1v1h-1zM860 274h1v1h-1zM860 320h1v1h-1zM862 274h1v1h-1zM862 320h1v1h-1zM873 243h1v1h-1zM875 243h1v1h-1zM875 297h1v1h-1zM878 243h1v1h-1zM878 297h1v1h-1zM880 228h1v1h-1zM880 236h1v1h-1zM882 228h1v1h-1zM882 236h1v1h-1zM884 97h1v1h-1z"/>
<path fill="#ff3737" d="M242 274h1v1h-1zM242 290h1v1h-1zM244 274h1v1h-1zM244 290h1v1h-1zM246 274h1v1h-1zM246 290h1v1h-1zM249 274h1v1h-1zM249 290h1v1h-1zM251 274h1v1h-1zM251 290h1v1h-1zM255 274h1v1h-1zM255 290h1v1h-1zM257 274h1v1h-1zM257 290h1v1h-1zM260 274h1v1h-1zM260 290h1v1h-1zM262 274h1v1h-1zM262 290h1v1h-1zM264 274h1v1h-1zM264 290h1v1h-1zM266 274h1v1h-1zM266 290h1v1h-1zM269 274h1v1h-1zM269 290h1v1h-1zM271 274h1v1h-1zM271 290h1v1h-1zM275 274h1v1h-1zM275 290h1v1h-1zM277 274h1v1h-1zM277 290h1v1h-1zM280 274h1v1h-1zM280 290h1v1h-1zM282 274h1v1h-1zM282 290h1v1h-1zM284 274h1v1h-1zM284 290h1v1h-1zM331 228h1v1h-1zM335 228h1v1h-1zM337 228h1v1h-1zM340 228h1v1h-1zM342 228h1v1h-1zM344 228h1v1h-1zM346 228h1v1h-1zM349 228h1v1h-1zM351 228h1v1h-1zM355 228h1v1h-1zM357 228h1v1h-1zM360 228h1v1h-1zM362 228h1v1h-1zM364 228h1v1h-1zM366 228h1v1h-1zM369 228h1v1h-1zM371 228h1v1h-1zM375 228h1v1h-1zM375 251h1v1h-1zM377 228h1v1h-1zM377 251h1v1h-1zM380 228h1v1h-1zM380 251h1v1h-1zM382 228h1v1h-1zM382 251h1v1h-1zM384 228h1v1h-1zM384 251h1v1h-1zM386 228h1v1h-1zM386 251h1v1h-1zM389 228h1v1h-1zM389 251h1v1h-1zM391 228h1v1h-1zM391 251h1v1h-1zM393 228h1v1h-1zM393 251h1v1h-1zM395 228h1v1h-1zM395 251h1v1h-1zM397 228h1v1h-1zM397 251h1v1h-1zM400 228h1v1h-1zM400 251h1v1h-1zM402 228h1v1h-1zM402 251h1v1h-1zM404 228h1v1h-1zM404 251h1v1h-1zM406 228h1v1h-1zM406 251h1v1h-1zM409 228h1v1h-1zM409 251h1v1h-1zM411 228h1v1h-1zM411 251h1v1h-1zM413 228h1v1h-1zM413 251h1v1h-1zM415 228h1v1h-1zM415 251h1v1h-1zM417 228h1v1h-1zM417 251h1v1h-1zM506 236h1v1h-1zM509 236h1v1h-1zM511 236h1v1h-1zM513 236h1v1h-1zM513 259h1v1h-1zM515 236h1v1h-1zM518 236h1v1h-1zM520 236h1v1h-1zM524 236h1v1h-1zM526 236h1v1h-1zM529 236h1v1h-1zM531 236h1v1h-1zM533 236h1v1h-1zM535 236h1v1h-1zM538 236h1v1h-1zM540 236h1v1h-1zM544 236h1v1h-1zM546 274h1v1h-1zM549 274h1v1h-1zM551 274h1v1h-1zM555 274h1v1h-1zM558 274h1v1h-1zM560 259h1v1h-1zM560 274h1v1h-1zM564 274h1v1h-1zM566 274h1v1h-1zM569 259h1v1h-1zM569 274h1v1h-1zM571 274h1v1h-1zM573 274h1v1h-1zM575 274h1v1h-1zM578 274h1v1h-1zM580 274h1v1h-1zM713 259h1v1h-1zM713 328h1v1h-1zM715 328h1v1h-1zM718 328h1v1h-1zM720 328h1v1h-1zM722 259h1v1h-1zM722 328h1v1h-1zM724 328h1v1h-1zM727 328h1v1h-1zM729 328h1v1h-1zM731 328h1v1h-1zM733 328h1v1h-1zM735 328h1v1h-1zM738 328h1v1h-1zM787 251h1v1h-1zM789 251h1v1h-1zM793 251h1v1h-1zM793 259h1v1h-1zM795 251h1v1h-1zM798 251h1v1h-1zM800 251h1v1h-1zM802 251h1v1h-1zM804 251h1v1h-1zM807 266h1v1h-1zM809 266h1v1h-1zM813 266h1v1h-1zM815 266h1v1h-1zM818 266h1v1h-1zM820 266h1v1h-1zM822 266h1v1h-1zM824 266h1v1h-1zM827 266h1v1h-1zM829 266h1v1h-1zM833 266h1v1h-1zM835 266h1v1h-1zM838 266h1v1h-1zM840 320h1v1h-1zM840 328h1v1h-1zM842 320h1v1h-1zM842 328h1v1h-1zM844 320h1v1h-1zM844 328h1v1h-1zM847 320h1v1h-1zM847 328h1v1h-1zM849 320h1v1h-1zM849 328h1v1h-1zM864 274h1v1h-1zM864 305h1v1h-1zM867 274h1v1h-1zM867 305h1v1h-1zM869 274h1v1h-1zM869 305h1v1h-1z"/>
<path fill="#b2d8b2" d="M222 197h1v1h-1zM222 328h1v1h-1zM224 197h1v1h-1zM224 328h1v1h-1zM226 197h1v1h-1zM226 328h1v1h-1zM229 197h1v1h-1zM229 328h1v1h-1zM231 197h1v1h-1zM231 328h1v1h-1zM233 197h1v1h-1zM233 328h1v1h-1zM235 197h1v1h-1zM235 328h1v1h-1zM237 197h1v1h-1zM237 328h1v1h-1zM240 197h1v1h-1zM240 328h1v1h-1zM286 151h1v1h-1zM286 297h1v1h-1zM289 151h1v1h-1zM289 297h1v1h-1zM291 151h1v1h-1zM293 151h1v1h-1zM295 151h1v1h-1zM297 151h1v1h-1zM300 151h1v1h-1zM302 151h1v1h-1zM304 151h1v1h-1zM306 151h1v1h-1zM309 151h1v1h-1zM311 151h1v1h-1zM313 151h1v1h-1zM313 297h1v1h-1zM315 151h1v1h-1zM317 151h1v1h-1zM320 151h1v1h-1zM322 151h1v1h-1zM324 151h1v1h-1zM326 151h1v1h-1zM329 151h1v1h-1zM464 205h1v1h-1zM466 205h1v1h-1zM466 297h1v1h-1zM469 205h1v1h-1zM471 205h1v1h-1zM473 205h1v1h-1zM475 205h1v1h-1zM475 297h1v1h-1zM478 205h1v1h-1zM480 205h1v1h-1zM482 205h1v1h-1zM484 205h1v1h-1zM486 205h1v1h-1zM489 205h1v1h-1zM489 297h1v1h-1zM491 205h1v1h-1zM493 205h1v1h-1zM495 205h1v1h-1zM498 205h1v1h-1zM498 297h1v1h-1zM500 205h1v1h-1zM502 205h1v1h-1zM504 205h1v1h-1zM584 282h1v1h-1zM586 282h1v1h-1zM589 282h1v1h-1zM591 282h1v1h-1zM593 282h1v1h-1zM595 220h1v1h-1zM595 282h1v1h-1zM598 282h1v1h-1zM600 282h1v1h-1zM602 282h1v1h-1zM604 220h1v1h-1zM604 282h1v1h-1zM606 282h1v1h-1zM609 282h1v1h-1zM611 282h1v1h-1zM613 282h1v1h-1zM615 282h1v1h-1zM618 282h1v1h-1zM620 205h1v1h-1zM620 251h1v1h-1zM622 205h1v1h-1zM622 251h1v1h-1zM624 205h1v1h-1zM624 251h1v1h-1zM626 205h1v1h-1zM626 251h1v1h-1zM629 205h1v1h-1zM629 251h1v1h-1zM631 205h1v1h-1zM631 251h1v1h-1zM633 205h1v1h-1zM633 251h1v1h-1zM635 205h1v1h-1zM635 251h1v1h-1zM638 205h1v1h-1zM638 251h1v1h-1zM640 205h1v1h-1zM640 251h1v1h-1zM642 205h1v1h-1zM642 251h1v1h-1zM644 205h1v1h-1zM644 251h1v1h-1zM646 205h1v1h-1zM646 251h1v1h-1zM649 205h1v1h-1zM649 251h1v1h-1zM651 205h1v1h-1zM651 251h1v1h-1zM653 151h1v1h-1zM655 151h1v1h-1zM658 151h1v1h-1zM660 151h1v1h-1zM662 151h1v1h-1zM666 151h1v1h-1zM669 151h1v1h-1zM671 151h1v1h-1zM673 151h1v1h-1zM675 151h1v1h-1zM678 151h1v1h-1zM680 151h1v1h-1zM682 151h1v1h-1zM740 343h1v1h-1zM742 343h1v1h-1zM744 343h1v1h-1zM747 343h1v1h-1zM749 343h1v1h-1zM751 343h1v1h-1zM753 343h1v1h-1zM755 343h1v1h-1zM758 343h1v1h-1zM760 297h1v1h-1zM760 343h1v1h-1zM762 343h1v1h-1zM764 236h1v1h-1zM767 236h1v1h-1zM769 236h1v1h-1zM769 336h1v1h-1zM771 236h1v1h-1zM773 236h1v1h-1zM778 236h1v1h-1zM780 236h1v1h-1zM782 236h1v1h-1zM784 236h1v1h-1zM784 336h1v1h-1zM853 243h1v1h-1zM853 328h1v1h-1zM855 243h1v1h-1zM855 328h1v1h-1zM858 243h1v1h-1zM858 328h1v1h-1zM860 243h1v1h-1zM860 328h1v1h-1zM862 243h1v1h-1zM862 328h1v1h-1zM873 228h1v1h-1zM873 313h1v1h-1zM875 228h1v1h-1zM875 313h1v1h-1zM878 228h1v1h-1zM878 313h1v1h-1zM880 274h1v1h-1zM882 274h1v1h-1zM884 82h1v1h-1z"/>
<path fill="#ff5050" d="M241 274h1v1h-1zM241 290h1v1h-1zM245 274h1v1h-1zM245 290h1v1h-1zM247 274h2v1h-2zM247 290h2v1h-2zM250 274h1v1h-1zM250 290h1v1h-1zM256 274h1v1h-1zM256 290h1v1h-1zM258 274h2v1h-2zM258 290h2v1h-2zM261 274h1v1h-1zM261 290h1v1h-1zM265 274h1v1h-1zM265 290h1v1h-1zM267 274h2v1h-2zM267 290h2v1h-2zM270 274h1v1h-1zM270 290h1v1h-1zM276 274h1v1h-1zM276 290h1v1h-1zM278 274h2v1h-2zM278 290h2v1h-2zM281 274h1v1h-1zM281 290h1v1h-1zM285 274h1v1h-1zM285 290h1v1h-1zM330 228h1v1h-1zM335 174h8v1h-8zM336 228h1v1h-1zM338 228h2v1h-2zM341 228h1v1h-1zM344 174h8v1h-8zM345 228h1v1h-1zM347 228h2v1h-2zM350 228h1v1h-1zM355 174h8v1h-8zM356 228h1v1h-1zM358 228h2v1h-2zM361 228h1v1h-1zM364 174h8v1h-8zM365 228h1v1h-1zM367 228h2v1h-2zM370 228h1v1h-1zM376 228h1v1h-1zM376 251h1v1h-1zM378 228h2v1h-2zM378 251h2v1h-2zM381 228h1v1h-1zM381 251h1v1h-1zM385 228h1v1h-1zM385 251h1v1h-1zM387 228h2v1h-2zM387 251h2v1h-2zM390 228h1v1h-1zM390 251h1v1h-1zM394 228h1v1h-1zM394 251h1v1h-1zM396 228h1v1h-1zM396 251h1v1h-1zM398 228h2v1h-2zM398 251h2v1h-2zM401 228h1v1h-1zM401 251h1v1h-1zM405 228h1v1h-1zM405 251h1v1h-1zM407 228h2v1h-2zM407 251h2v1h-2zM410 228h1v1h-1zM410 251h1v1h-1zM414 228h1v1h-1zM414 251h1v1h-1zM416 228h1v1h-1zM416 251h1v1h-1zM418 228h1v1h-1zM418 251h1v1h-1zM507 236h2v1h-2zM510 236h1v1h-1zM510 259h1v1h-1zM514 236h1v1h-1zM516 236h2v1h-2zM519 236h1v1h-1zM525 236h1v1h-1zM525 259h1v1h-1zM527 236h2v1h-2zM530 236h1v1h-1zM534 236h1v1h-1zM536 236h2v1h-2zM539 236h1v1h-1zM545 236h1v1h-1zM545 259h1v1h-1zM547 274h2v1h-2zM548 259h1v1h-1zM550 274h1v1h-1zM556 274h2v1h-2zM557 259h1v1h-1zM559 274h1v1h-1zM565 274h1v1h-1zM567 274h2v1h-2zM570 274h1v1h-1zM574 274h1v1h-1zM576 274h2v1h-2zM579 274h1v1h-1zM684 174h8v1h-8zM687 259h1v1h-1zM693 174h8v1h-8zM702 174h10v1h-10zM710 259h1v1h-1zM714 328h1v1h-1zM716 328h2v1h-2zM719 328h1v1h-1zM723 328h1v1h-1zM725 259h1v1h-1zM725 328h2v1h-2zM728 328h1v1h-1zM730 328h1v1h-1zM734 259h1v1h-1zM734 328h1v1h-1zM736 328h2v1h-2zM737 259h1v1h-1zM786 251h1v1h-1zM788 251h1v1h-1zM794 251h1v1h-1zM796 251h2v1h-2zM799 251h1v1h-1zM803 251h1v1h-1zM805 251h1v1h-1zM806 266h1v1h-1zM807 259h1v1h-1zM808 266h1v1h-1zM814 266h1v1h-1zM816 259h1v1h-1zM816 266h2v1h-2zM819 259h1v1h-1zM819 266h1v1h-1zM823 266h1v1h-1zM824 328h6v1h-6zM825 266h2v1h-2zM828 266h1v1h-1zM833 328h7v1h-7zM834 266h1v1h-1zM836 266h2v1h-2zM839 320h1v1h-1zM843 320h1v1h-1zM843 328h1v1h-1zM845 320h2v1h-2zM845 328h2v1h-2zM848 320h1v1h-1zM848 328h1v1h-1zM865 274h2v1h-2zM865 305h2v1h-2zM868 274h1v1h-1zM868 305h1v1h-1z"/>
<path fill="#329932" d="M219 278h3v1h-3zM222 275h1v7h-1zM224 275h8v7h-8zM235 275h6v7h-6zM286 168h1v122h-1zM287 168h2v13h-2zM287 184h2v35h-2zM287 222h2v36h-2zM287 261h2v29h-2zM289 168h1v122h-1zM290 168h2v13h-2zM290 184h2v35h-2zM290 222h2v36h-2zM290 261h2v29h-2zM295 168h3v13h-3zM295 184h3v35h-3zM295 222h3v36h-3zM295 261h3v29h-3zM298 168h1v122h-1zM299 168h2v13h-2zM299 184h2v35h-2zM299 222h2v36h-2zM299 261h2v29h-2zM301 168h1v122h-1zM302 168h1v13h-1zM302 184h1v35h-1zM302 222h1v36h-1zM302 261h1v29h-1zM304 168h6v13h-6zM304 184h6v35h-6zM304 222h6v36h-6zM304 261h6v29h-6zM310 168h1v122h-1zM311 168h1v13h-1zM311 184h1v35h-1zM311 222h1v36h-1zM311 261h1v29h-1zM315 168h8v13h-8zM315 184h8v35h-8zM315 222h8v36h-8zM315 261h8v29h-8zM324 168h6v13h-6zM324 184h6v35h-6zM324 222h6v36h-6zM324 261h6v29h-6zM464 229h2v29h-2zM464 261h2v5h-2zM466 229h1v37h-1zM467 229h5v29h-5zM467 261h5v5h-5zM473 229h2v29h-2zM473 261h2v5h-2zM475 229h1v37h-1zM476 229h5v29h-5zM476 261h5v5h-5zM484 229h5v29h-5zM484 261h5v5h-5zM489 229h1v37h-1zM490 229h2v29h-2zM490 261h2v5h-2zM493 229h5v29h-5zM493 261h5v5h-5zM498 229h1v37h-1zM499 229h2v29h-2zM499 261h2v5h-2zM504 229h2v29h-2zM504 261h2v5h-2zM584 229h8v29h-8zM584 261h8v13h-8zM593 229h2v29h-2zM593 261h2v13h-2zM595 229h1v45h-1zM596 229h5v29h-5zM596 261h5v13h-5zM604 229h1v45h-1zM605 229h2v29h-2zM605 261h2v13h-2zM607 229h1v45h-1zM608 229h4v29h-4zM608 261h4v13h-4zM613 229h3v29h-3zM613 261h3v13h-3zM616 229h1v45h-1zM617 229h2v29h-2zM617 261h2v13h-2zM619 221h1v15h-1zM620 222h1v14h-1zM624 222h4v14h-4zM628 221h1v15h-1zM629 222h2v14h-2zM631 221h1v15h-1zM633 222h8v14h-8zM644 222h7v14h-7zM651 221h1v15h-1zM653 184h1v35h-1zM654 183h1v37h-1zM655 184h6v35h-6zM664 184h2v1h-2zM664 193h2v1h-2zM664 196h2v1h-2zM664 205h2v1h-2zM664 208h2v1h-2zM666 183h1v37h-1zM667 184h5v35h-5zM673 184h2v35h-2zM675 183h1v37h-1zM676 184h2v35h-2zM678 183h1v37h-1zM679 184h2v35h-2zM682 184h2v35h-2zM739 314h2v14h-2zM742 314h10v14h-10zM753 314h8v14h-8zM762 314h2v14h-2zM764 261h5v35h-5zM764 299h5v14h-5zM769 260h1v53h-1zM773 261h1v35h-1zM773 299h1v14h-1zM774 264h3v1h-3zM774 278h3v1h-3zM774 287h3v1h-3zM774 290h3v1h-3zM774 299h3v1h-3zM774 302h3v1h-3zM774 311h3v1h-3zM777 261h4v35h-4zM777 299h4v14h-4zM782 261h2v35h-2zM782 299h2v14h-2zM784 260h1v53h-1zM785 261h1v35h-1zM785 299h1v14h-1zM853 275h8v21h-8zM853 299h8v21h-8zM862 275h1v21h-1zM862 299h1v21h-1zM863 275h1v45h-1zM873 244h2v14h-2zM873 261h2v35h-2zM875 244h1v53h-1zM876 244h2v14h-2zM876 261h2v35h-2zM878 244h1v53h-1zM879 229h2v7h-2zM882 229h2v7h-2zM884 98h2v6h-2zM884 107h2v36h-2zM884 146h2v35h-2zM884 184h2v35h-2z"/>
<path fill="#50a750" d="M225 274h1v1h-1zM225 282h1v1h-1zM227 274h2v1h-2zM227 282h2v1h-2zM230 274h1v1h-1zM230 282h1v1h-1zM236 274h1v1h-1zM236 282h1v1h-1zM238 274h2v1h-2zM238 282h2v1h-2zM287 167h2v1h-2zM287 290h2v1h-2zM290 167h1v1h-1zM290 290h1v1h-1zM296 167h1v1h-1zM296 290h1v1h-1zM298 167h2v1h-2zM298 290h2v1h-2zM301 167h1v1h-1zM301 290h1v1h-1zM305 167h1v1h-1zM305 290h1v1h-1zM307 167h2v1h-2zM307 290h2v1h-2zM310 167h1v1h-1zM310 290h1v1h-1zM316 167h1v1h-1zM316 290h1v1h-1zM318 167h2v1h-2zM318 290h2v1h-2zM321 167h1v1h-1zM321 290h1v1h-1zM325 167h1v1h-1zM325 290h1v1h-1zM327 167h2v1h-2zM327 290h2v1h-2zM465 228h1v1h-1zM465 266h1v1h-1zM467 228h2v1h-2zM467 266h2v1h-2zM470 228h1v1h-1zM470 266h1v1h-1zM474 228h1v1h-1zM474 266h1v1h-1zM476 228h2v1h-2zM476 266h2v1h-2zM479 228h1v1h-1zM479 266h1v1h-1zM485 228h1v1h-1zM485 266h1v1h-1zM487 228h2v1h-2zM487 266h2v1h-2zM490 228h1v1h-1zM490 266h1v1h-1zM494 228h1v1h-1zM494 266h1v1h-1zM496 228h2v1h-2zM496 266h2v1h-2zM499 228h1v1h-1zM499 266h1v1h-1zM505 228h1v1h-1zM505 266h1v1h-1zM585 228h1v1h-1zM585 274h1v1h-1zM587 228h2v1h-2zM587 274h2v1h-2zM590 228h1v1h-1zM590 274h1v1h-1zM594 228h1v1h-1zM594 274h1v1h-1zM596 228h2v1h-2zM596 274h2v1h-2zM599 228h1v1h-1zM599 274h1v1h-1zM605 228h1v1h-1zM605 274h1v1h-1zM607 228h2v1h-2zM607 274h2v1h-2zM610 228h1v1h-1zM610 274h1v1h-1zM614 228h1v1h-1zM614 274h1v1h-1zM616 228h2v1h-2zM616 274h2v1h-2zM619 220h1v1h-1zM619 236h1v1h-1zM625 236h1v1h-1zM627 236h2v1h-2zM628 220h1v1h-1zM630 236h1v1h-1zM634 236h1v1h-1zM636 236h2v1h-2zM639 236h1v1h-1zM645 236h1v1h-1zM647 236h2v1h-2zM650 236h1v1h-1zM654 182h1v1h-1zM654 220h1v1h-1zM666 220h1v1h-1zM675 220h1v1h-1zM678 220h1v1h-1zM739 313h1v1h-1zM739 328h1v1h-1zM743 313h1v1h-1zM743 328h1v1h-1zM745 313h2v1h-2zM745 328h2v1h-2zM748 313h1v1h-1zM748 328h1v1h-1zM750 313h1v1h-1zM750 328h1v1h-1zM754 313h1v1h-1zM754 328h1v1h-1zM756 313h2v1h-2zM756 328h2v1h-2zM759 313h1v1h-1zM759 328h1v1h-1zM763 313h1v1h-1zM763 328h1v1h-1zM765 313h2v1h-2zM768 313h1v1h-1zM777 313h1v1h-1zM779 313h1v1h-1zM783 313h1v1h-1zM785 313h1v1h-1zM854 274h1v1h-1zM854 320h1v1h-1zM856 274h2v1h-2zM856 320h2v1h-2zM859 274h1v1h-1zM859 320h1v1h-1zM863 274h1v1h-1zM863 320h1v1h-1zM874 243h1v1h-1zM876 243h2v1h-2zM879 228h1v1h-1zM879 236h1v1h-1zM883 228h1v1h-1zM883 236h1v1h-1zM885 97h1v1h-1z"/>
<path fill="#ff3232" d="M241 275h2v15h-2zM244 275h8v15h-8zM255 275h8v15h-8zM264 275h8v15h-8zM275 275h8v15h-8zM284 275h2v15h-2zM330 184h2v1h-2zM330 193h2v1h-2zM330 196h2v1h-2zM330 205h2v1h-2zM330 208h2v1h-2zM335 175h1v6h-1zM335 184h1v35h-1zM335 222h1v6h-1zM336 175h1v53h-1zM337 175h6v6h-6zM337 184h6v35h-6zM337 222h6v6h-6zM344 175h1v6h-1zM344 184h1v35h-1zM344 222h1v6h-1zM345 175h1v53h-1zM346 175h2v6h-2zM346 184h2v35h-2zM346 222h2v6h-2zM348 175h1v53h-1zM349 175h3v6h-3zM349 184h3v35h-3zM349 222h3v6h-3zM355 175h2v6h-2zM355 184h2v35h-2zM355 222h2v6h-2zM357 175h1v53h-1zM358 175h2v6h-2zM358 184h2v35h-2zM358 222h2v6h-2zM360 175h1v53h-1zM361 175h2v6h-2zM361 184h2v35h-2zM361 222h2v6h-2zM364 175h5v6h-5zM364 184h5v35h-5zM364 222h5v6h-5zM369 175h1v53h-1zM370 175h2v6h-2zM370 184h2v35h-2zM370 222h2v6h-2zM375 229h8v22h-8zM384 229h8v22h-8zM393 229h10v22h-10zM404 229h8v22h-8zM413 229h6v22h-6zM506 237h4v21h-4zM510 237h1v22h-1zM511 237h1v21h-1zM513 237h1v22h-1zM514 237h7v21h-7zM524 237h1v21h-1zM525 237h1v22h-1zM526 237h6v21h-6zM533 237h8v21h-8zM544 237h1v21h-1zM545 237h1v22h-1zM546 261h2v13h-2zM548 260h1v14h-1zM549 261h3v13h-3zM553 264h2v1h-2zM555 261h2v13h-2zM557 260h1v14h-1zM558 261h2v13h-2zM560 260h1v14h-1zM564 261h5v13h-5zM569 260h1v14h-1zM570 261h2v13h-2zM573 261h8v13h-8zM684 175h3v6h-3zM684 184h3v35h-3zM684 222h3v36h-3zM687 175h1v84h-1zM688 175h4v6h-4zM688 184h4v35h-4zM688 222h4v36h-4zM693 175h8v6h-8zM693 184h8v35h-8zM693 222h8v36h-8zM702 175h8v6h-8zM702 184h8v35h-8zM702 222h8v36h-8zM710 175h1v84h-1zM711 175h1v6h-1zM711 184h1v35h-1zM711 222h1v36h-1zM713 260h1v68h-1zM714 261h7v35h-7zM714 299h7v29h-7zM722 260h1v68h-1zM723 261h2v35h-2zM723 299h2v29h-2zM725 260h1v68h-1zM726 261h6v35h-6zM726 299h6v29h-6zM733 261h1v35h-1zM733 299h1v29h-1zM734 260h1v68h-1zM735 261h2v35h-2zM735 299h2v29h-2zM737 260h1v68h-1zM738 261h1v35h-1zM738 299h1v29h-1zM786 252h4v6h-4zM793 252h1v7h-1zM794 252h7v6h-7zM802 252h4v6h-4zM806 261h1v5h-1zM807 260h1v6h-1zM808 261h2v5h-2zM813 261h3v5h-3zM816 260h1v6h-1zM817 261h2v5h-2zM819 260h1v6h-1zM820 261h1v5h-1zM822 261h2v5h-2zM824 267h4v29h-4zM824 299h4v29h-4zM828 267h1v61h-1zM829 267h1v29h-1zM829 299h1v29h-1zM833 267h6v29h-6zM833 299h6v29h-6zM839 321h2v7h-2zM842 321h8v7h-8zM864 275h2v21h-2zM864 299h2v6h-2zM866 275h1v30h-1zM867 275h3v21h-3zM867 299h3v6h-3z"/>
<path fill="#319731" d="M219 277h1v1h-1zM219 280h1v2h-1zM220 275h1v1h-1zM221 277h1v1h-1zM221 280h1v2h-1zM291 181h1v1h-1zM291 183h1v1h-1zM291 219h1v1h-1zM291 221h1v1h-1zM291 258h1v1h-1zM291 260h1v1h-1zM295 181h2v1h-2zM295 183h2v1h-2zM295 219h2v1h-2zM295 221h2v1h-2zM295 258h2v1h-2zM295 260h2v1h-2zM304 181h5v1h-5zM304 183h5v1h-5zM304 219h5v1h-5zM304 221h5v1h-5zM304 258h5v1h-5zM304 260h5v1h-5zM315 181h6v1h-6zM315 183h6v1h-6zM315 219h6v1h-6zM315 221h6v1h-6zM315 258h6v1h-6zM315 260h6v1h-6zM322 182h1v1h-1zM322 220h1v1h-1zM322 259h1v1h-1zM324 182h1v1h-1zM324 220h1v1h-1zM324 259h1v1h-1zM326 181h4v1h-4zM326 183h4v1h-4zM326 219h4v1h-4zM326 221h4v1h-4zM326 258h4v1h-4zM326 260h4v1h-4zM468 258h4v1h-4zM468 260h4v1h-4zM473 258h1v1h-1zM473 260h1v1h-1zM476 258h1v1h-1zM476 260h1v1h-1zM478 259h1v1h-1zM479 258h2v1h-2zM479 260h2v1h-2zM484 258h2v1h-2zM484 260h2v1h-2zM486 259h1v1h-1zM488 258h1v1h-1zM488 260h1v1h-1zM491 258h1v1h-1zM491 260h1v1h-1zM493 258h4v1h-4zM493 260h4v1h-4zM504 258h2v1h-2zM504 260h2v1h-2zM584 259h1v1h-1zM585 258h7v1h-7zM585 260h7v1h-7zM594 258h1v1h-1zM594 260h1v1h-1zM597 258h4v1h-4zM597 260h4v1h-4zM609 258h3v1h-3zM609 260h3v1h-3zM613 258h2v1h-2zM613 260h2v1h-2zM624 221h3v1h-3zM633 221h6v1h-6zM644 221h7v1h-7zM656 183h5v1h-5zM656 219h5v1h-5zM664 217h1v1h-1zM665 186h1v6h-1zM665 198h1v6h-1zM665 209h1v7h-1zM665 218h1v1h-1zM668 183h4v1h-4zM668 219h4v1h-4zM673 183h1v1h-1zM673 219h1v1h-1zM680 183h1v1h-1zM680 219h1v1h-1zM682 183h2v1h-2zM682 219h2v1h-2zM764 260h4v1h-4zM764 296h4v1h-4zM764 298h4v1h-4zM774 261h1v2h-1zM774 265h1v1h-1zM774 268h1v7h-1zM774 277h1v1h-1zM774 280h1v6h-1zM774 292h1v4h-1zM774 304h1v6h-1zM775 267h1v1h-1zM775 275h1v1h-1zM776 261h1v2h-1zM776 265h1v1h-1zM776 268h1v7h-1zM776 277h1v1h-1zM776 280h1v6h-1zM776 292h1v4h-1zM776 304h1v6h-1zM777 260h3v1h-3zM777 296h3v1h-3zM777 298h3v1h-3zM853 296h1v1h-1zM853 298h1v1h-1zM854 297h1v1h-1zM856 296h5v1h-5zM856 298h5v1h-5zM862 296h1v1h-1zM862 298h1v1h-1zM873 258h1v1h-1zM873 260h1v1h-1zM873 296h1v1h-1zM884 104h2v1h-2zM884 106h2v1h-2zM884 143h2v1h-2zM884 145h2v1h-2zM884 181h2v1h-2zM884 183h2v1h-2zM884 219h2v1h-2z"/>
<path fill="#319831" d="M288 181h1v1h-1zM288 183h1v1h-1zM288 219h1v1h-1zM288 221h1v1h-1zM288 258h1v1h-1zM288 260h1v1h-1zM290 181h1v1h-1zM290 183h1v1h-1zM290 219h1v1h-1zM290 221h1v1h-1zM290 258h1v1h-1zM290 260h1v1h-1zM297 181h1v1h-1zM297 183h1v1h-1zM297 219h1v1h-1zM297 221h1v1h-1zM297 258h1v1h-1zM297 260h1v1h-1zM299 181h2v1h-2zM299 183h2v1h-2zM299 219h2v1h-2zM299 221h2v1h-2zM299 258h2v1h-2zM299 260h2v1h-2zM302 181h1v1h-1zM302 183h1v1h-1zM302 219h1v1h-1zM302 221h1v1h-1zM302 258h1v1h-1zM302 260h1v1h-1zM311 181h1v1h-1zM311 183h1v1h-1zM311 219h1v1h-1zM311 221h1v1h-1zM311 258h1v1h-1zM311 260h1v1h-1zM464 258h1v1h-1zM464 260h1v1h-1zM467 258h1v1h-1zM467 260h1v1h-1zM497 258h1v1h-1zM497 260h1v1h-1zM500 258h1v1h-1zM500 260h1v1h-1zM606 258h1v1h-1zM606 260h1v1h-1zM608 258h1v1h-1zM608 260h1v1h-1zM615 258h1v1h-1zM615 260h1v1h-1zM617 258h2v1h-2zM617 260h2v1h-2zM620 221h1v1h-1zM629 221h1v1h-1zM653 183h1v1h-1zM653 219h1v1h-1zM665 185h1v1h-1zM665 192h1v1h-1zM665 194h1v2h-1zM665 197h1v1h-1zM665 206h1v1h-1zM665 219h1v1h-1zM667 183h1v1h-1zM667 219h1v1h-1zM674 183h1v1h-1zM674 219h1v1h-1zM676 183h1v1h-1zM676 219h1v1h-1zM679 183h1v1h-1zM679 219h1v1h-1zM768 260h1v1h-1zM768 296h1v1h-1zM768 298h1v1h-1zM773 260h1v1h-1zM773 296h1v1h-1zM773 298h1v1h-1zM774 286h1v1h-1zM774 289h1v1h-1zM774 291h1v1h-1zM774 300h1v2h-1zM774 303h1v1h-1zM774 312h1v1h-1zM776 286h1v1h-1zM776 289h1v1h-1zM776 291h1v1h-1zM776 300h1v2h-1zM776 303h1v1h-1zM776 312h1v1h-1zM780 260h1v1h-1zM780 296h1v1h-1zM780 298h1v1h-1zM782 260h1v1h-1zM782 296h1v1h-1zM782 298h1v1h-1zM785 260h1v1h-1zM785 296h1v1h-1zM785 298h1v1h-1zM874 258h1v1h-1zM874 260h1v1h-1zM874 296h1v1h-1zM876 258h2v1h-2zM876 260h2v1h-2zM876 296h2v1h-2z"/>
<path fill="#fd3131" d="M330 175h1v5h-1zM330 181h2v1h-2zM330 186h1v6h-1zM330 198h1v6h-1zM330 209h1v7h-1zM330 218h1v2h-1zM330 222h1v6h-1zM331 217h1v1h-1zM338 181h5v1h-5zM338 183h5v1h-5zM338 219h5v1h-5zM338 221h5v1h-5zM350 181h2v1h-2zM350 183h2v1h-2zM350 219h2v1h-2zM350 221h2v1h-2zM355 181h1v1h-1zM355 183h1v1h-1zM355 219h1v1h-1zM355 221h1v1h-1zM362 181h1v1h-1zM362 183h1v1h-1zM362 219h1v1h-1zM362 221h1v1h-1zM364 181h4v1h-4zM364 183h4v1h-4zM364 219h4v1h-4zM364 221h4v1h-4zM370 181h1v1h-1zM370 183h1v1h-1zM370 219h1v1h-1zM370 221h1v1h-1zM506 258h3v1h-3zM515 258h6v1h-6zM526 258h6v1h-6zM535 258h1v1h-1zM538 258h3v1h-3zM544 258h1v1h-1zM550 260h2v1h-2zM553 267h1v1h-1zM554 261h1v2h-1zM554 265h1v1h-1zM554 268h1v6h-1zM555 260h1v1h-1zM564 260h4v1h-4zM574 260h6v1h-6zM684 181h2v1h-2zM684 183h2v1h-2zM684 219h2v1h-2zM684 221h2v1h-2zM684 258h2v1h-2zM688 181h1v1h-1zM688 183h1v1h-1zM688 219h1v1h-1zM688 221h1v1h-1zM688 258h1v1h-1zM690 182h1v1h-1zM690 220h1v1h-1zM691 181h1v1h-1zM691 183h1v1h-1zM691 219h1v1h-1zM691 221h1v1h-1zM691 258h1v1h-1zM693 181h5v1h-5zM693 183h5v1h-5zM693 219h5v1h-5zM693 221h5v1h-5zM693 258h5v1h-5zM698 182h1v1h-1zM698 220h1v1h-1zM700 181h1v1h-1zM700 183h1v1h-1zM700 219h1v1h-1zM700 221h1v1h-1zM700 258h1v1h-1zM703 181h6v1h-6zM703 183h6v1h-6zM703 219h6v1h-6zM703 221h6v1h-6zM703 258h6v1h-6zM715 260h6v1h-6zM715 296h6v1h-6zM715 298h6v1h-6zM727 260h5v1h-5zM727 296h5v1h-5zM727 298h5v1h-5zM738 260h1v1h-1zM738 296h1v1h-1zM738 298h1v1h-1zM786 258h4v1h-4zM794 258h1v1h-1zM797 258h4v1h-4zM802 258h2v1h-2zM806 260h1v1h-1zM809 260h1v1h-1zM813 260h2v1h-2zM822 260h2v1h-2zM824 296h3v1h-3zM824 298h3v1h-3zM833 296h6v1h-6zM833 298h6v1h-6zM868 296h2v1h-2zM868 298h2v1h-2z"/>
<path fill="#c77a7a" d="M244 259h1v1h-1zM246 259h1v1h-1zM249 259h1v1h-1zM257 259h1v1h-1zM260 259h1v1h-1zM269 259h1v1h-1zM271 259h1v1h-1zM273 259h1v1h-1zM280 259h1v1h-1zM282 259h1v1h-1zM284 259h1v1h-1zM331 259h1v1h-1zM340 259h1v1h-1zM342 259h1v1h-1zM351 259h1v1h-1zM353 259h1v1h-1zM355 259h1v1h-1zM362 259h1v1h-1zM364 259h1v1h-1zM366 259h1v1h-1zM373 259h1v1h-1zM375 220h1v1h-1zM377 220h1v1h-1zM386 220h1v1h-1zM389 220h1v1h-1zM397 220h1v1h-1zM400 220h1v1h-1zM402 220h1v1h-1zM409 220h1v1h-1zM411 220h1v1h-1zM413 220h1v1h-1zM421 259h1v1h-1zM422 220h1v1h-1zM424 220h1v1h-1zM425 259h1v1h-1zM426 220h1v1h-1zM429 220h1v1h-1zM433 220h1v1h-1zM434 259h1v1h-1zM435 220h1v1h-1zM436 259h2v1h-2zM442 282h1v1h-1zM444 220h1v1h-1zM445 259h1v1h-1zM446 220h1v1h-1zM447 259h2v1h-2zM449 220h1v1h-1zM456 259h2v1h-2zM458 220h1v1h-1zM459 259h1v1h-1zM460 220h1v1h-1zM461 259h1v1h-1zM506 220h1v1h-1zM515 220h1v1h-1zM518 220h1v1h-1zM520 220h1v1h-1zM529 220h1v1h-1zM531 220h1v1h-1zM535 220h1v1h-1zM538 220h1v1h-1zM540 220h1v1h-1zM542 220h1v1h-1zM553 282h1v1h-1zM787 220h1v1h-1zM789 220h1v1h-1zM791 220h1v1h-1zM798 220h1v1h-1zM800 220h1v1h-1zM802 220h1v1h-1zM809 297h1v1h-1zM811 259h1v1h-1zM811 297h1v1h-1zM813 297h1v1h-1zM822 297h1v1h-1zM824 259h1v1h-1zM833 259h1v1h-1zM835 259h1v1h-1zM838 259h1v1h-1z"/>
<path fill="#329832" d="M219 275h1v2h-1zM219 279h1v1h-1zM221 275h1v2h-1zM221 279h1v1h-1zM287 181h1v1h-1zM287 183h1v1h-1zM287 219h1v1h-1zM287 221h1v1h-1zM287 258h1v1h-1zM287 260h1v1h-1zM309 181h1v1h-1zM309 183h1v1h-1zM309 219h1v1h-1zM309 221h1v1h-1zM309 258h1v1h-1zM309 260h1v1h-1zM321 181h2v1h-2zM321 183h2v1h-2zM321 219h2v1h-2zM321 221h2v1h-2zM321 258h2v1h-2zM321 260h2v1h-2zM324 181h2v1h-2zM324 183h2v1h-2zM324 219h2v1h-2zM324 221h2v1h-2zM324 258h2v1h-2zM324 260h2v1h-2zM465 258h1v1h-1zM465 260h1v1h-1zM474 258h1v1h-1zM474 260h1v1h-1zM477 258h2v1h-2zM477 260h2v1h-2zM486 258h2v1h-2zM486 260h2v1h-2zM490 258h1v1h-1zM490 260h1v1h-1zM499 258h1v1h-1zM499 260h1v1h-1zM584 258h1v1h-1zM584 260h1v1h-1zM593 258h1v1h-1zM593 260h1v1h-1zM596 258h1v1h-1zM596 260h1v1h-1zM605 258h1v1h-1zM605 260h1v1h-1zM627 221h1v1h-1zM630 221h1v1h-1zM639 221h2v1h-2zM655 183h1v1h-1zM655 219h1v1h-1zM665 204h1v1h-1zM665 207h1v1h-1zM665 216h1v2h-1zM677 183h1v1h-1zM677 219h1v1h-1zM774 263h1v1h-1zM774 266h1v2h-1zM774 275h1v2h-1zM774 279h1v1h-1zM774 288h1v1h-1zM774 310h1v1h-1zM776 263h1v1h-1zM776 266h1v2h-1zM776 275h1v2h-1zM776 279h1v1h-1zM776 288h1v1h-1zM776 310h1v1h-1zM783 260h1v1h-1zM783 296h1v1h-1zM783 298h1v1h-1zM854 296h2v1h-2zM854 298h2v1h-2z"/>
<path fill="#fe3131" d="M330 180h1v1h-1zM330 185h1v1h-1zM330 192h1v1h-1zM330 194h1v2h-1zM330 197h1v1h-1zM330 206h1v1h-1zM335 181h1v1h-1zM335 183h1v1h-1zM335 219h1v1h-1zM335 221h1v1h-1zM344 181h1v1h-1zM344 183h1v1h-1zM344 219h1v1h-1zM344 221h1v1h-1zM346 181h2v1h-2zM346 183h2v1h-2zM346 219h2v1h-2zM346 221h2v1h-2zM349 181h1v1h-1zM349 183h1v1h-1zM349 219h1v1h-1zM349 221h1v1h-1zM356 181h1v1h-1zM356 183h1v1h-1zM356 219h1v1h-1zM356 221h1v1h-1zM358 181h1v1h-1zM358 183h1v1h-1zM358 219h1v1h-1zM358 221h1v1h-1zM361 181h1v1h-1zM361 183h1v1h-1zM361 219h1v1h-1zM361 221h1v1h-1zM509 258h1v1h-1zM511 258h1v1h-1zM514 258h1v1h-1zM547 260h1v1h-1zM556 260h1v1h-1zM558 260h2v1h-2zM568 260h1v1h-1zM570 260h1v1h-1zM573 260h1v1h-1zM709 181h1v1h-1zM709 183h1v1h-1zM709 219h1v1h-1zM709 221h1v1h-1zM709 258h1v1h-1zM714 260h1v1h-1zM714 296h1v1h-1zM714 298h1v1h-1zM723 260h2v1h-2zM723 296h2v1h-2zM723 298h2v1h-2zM726 260h1v1h-1zM726 296h1v1h-1zM726 298h1v1h-1zM735 260h1v1h-1zM735 296h1v1h-1zM735 298h1v1h-1zM815 260h1v1h-1zM818 260h1v1h-1zM820 260h1v1h-1zM827 296h1v1h-1zM827 298h1v1h-1zM829 296h1v1h-1zM829 298h1v1h-1zM865 296h1v1h-1zM865 298h1v1h-1z"/>
<path fill="#fe3232" d="M330 204h1v1h-1zM330 207h1v1h-1zM330 216h1v2h-1zM337 181h1v1h-1zM337 183h1v1h-1zM337 219h1v1h-1zM337 221h1v1h-1zM359 181h1v1h-1zM359 183h1v1h-1zM359 219h1v1h-1zM359 221h1v1h-1zM368 181h1v1h-1zM368 183h1v1h-1zM368 219h1v1h-1zM368 221h1v1h-1zM371 181h1v1h-1zM371 183h1v1h-1zM371 219h1v1h-1zM371 221h1v1h-1zM524 258h1v1h-1zM533 258h2v1h-2zM536 258h2v1h-2zM546 260h1v1h-1zM549 260h1v1h-1zM554 263h1v1h-1zM554 266h1v2h-1zM571 260h1v1h-1zM580 260h1v1h-1zM686 181h1v1h-1zM686 183h1v1h-1zM686 219h1v1h-1zM686 221h1v1h-1zM686 258h1v1h-1zM689 181h2v1h-2zM689 183h2v1h-2zM689 219h2v1h-2zM689 221h2v1h-2zM689 258h2v1h-2zM698 181h2v1h-2zM698 183h2v1h-2zM698 219h2v1h-2zM698 221h2v1h-2zM698 258h2v1h-2zM702 181h1v1h-1zM702 183h1v1h-1zM702 219h1v1h-1zM702 221h1v1h-1zM702 258h1v1h-1zM711 181h1v1h-1zM711 183h1v1h-1zM711 219h1v1h-1zM711 221h1v1h-1zM711 258h1v1h-1zM733 260h1v1h-1zM733 296h1v1h-1zM733 298h1v1h-1zM736 260h1v1h-1zM736 296h1v1h-1zM736 298h1v1h-1zM795 258h2v1h-2zM804 258h2v1h-2zM808 260h1v1h-1zM817 260h1v1h-1zM864 296h1v1h-1zM864 298h1v1h-1zM867 296h1v1h-1zM867 298h1v1h-1z"/>
<path fill="#459345" d="M220 198h1v6h-1zM220 210h1v6h-1zM220 218h1v1h-1zM220 220h1v7h-1zM220 233h1v6h-1zM220 245h1v6h-1zM220 257h1v6h-1zM220 268h1v6h-1zM220 283h1v3h-1zM220 292h1v6h-1zM220 304h1v6h-1zM220 316h1v6h-1zM220 324h1v1h-1zM220 327h1v1h-1zM222 220h1v1h-1zM222 259h1v1h-1zM222 297h1v1h-1zM224 220h1v1h-1zM224 259h1v1h-1zM224 297h1v1h-1zM233 220h1v1h-1zM233 259h1v1h-1zM233 297h1v1h-1zM235 220h1v1h-1zM235 259h1v1h-1zM235 297h1v1h-1zM237 220h1v1h-1zM237 259h1v1h-1zM237 297h1v1h-1zM293 182h1v1h-1zM293 220h1v1h-1zM293 259h1v1h-1zM469 220h1v1h-1zM471 220h1v1h-1zM473 220h1v1h-1zM480 220h1v1h-1zM482 220h1v1h-1zM482 259h1v1h-1zM484 220h1v1h-1zM491 220h1v1h-1zM493 220h1v1h-1zM495 220h1v1h-1zM504 220h1v1h-1zM602 259h1v1h-1zM664 152h1v5h-1zM664 162h1v7h-1zM664 174h1v6h-1zM740 336h1v1h-1zM742 336h1v1h-1zM744 336h1v1h-1zM747 336h1v1h-1zM751 336h1v1h-1zM753 336h1v1h-1zM755 336h1v1h-1zM762 336h1v1h-1zM775 237h1v2h-1zM775 245h1v6h-1zM775 257h1v2h-1zM775 316h1v6h-1zM775 324h1v1h-1zM775 327h1v6h-1zM853 259h1v1h-1zM858 259h1v1h-1zM860 259h1v1h-1zM880 259h1v1h-1zM882 259h1v1h-1z"/>
<path fill="#fe6464" d="M253 260h1v1h-1zM253 296h1v1h-1zM253 298h1v1h-1zM262 260h1v1h-1zM262 296h1v1h-1zM262 298h1v1h-1zM266 260h1v1h-1zM266 296h1v1h-1zM266 298h1v1h-1zM275 260h1v1h-1zM275 296h1v1h-1zM275 298h1v1h-1zM337 258h1v1h-1zM371 258h1v1h-1zM380 221h1v1h-1zM380 258h1v1h-1zM380 260h1v1h-1zM384 221h1v1h-1zM384 258h1v1h-1zM384 260h1v1h-1zM393 221h1v1h-1zM393 258h1v1h-1zM393 260h1v1h-1zM415 221h1v1h-1zM415 258h1v1h-1zM415 260h1v1h-1zM431 221h1v1h-1zM431 258h1v1h-1zM431 260h1v1h-1zM440 221h1v1h-1zM440 258h1v1h-1zM440 260h1v1h-1zM524 221h1v1h-1zM524 260h1v1h-1zM533 221h1v1h-1zM533 260h1v1h-1zM546 258h1v1h-1zM549 258h1v1h-1zM571 258h1v1h-1zM580 258h1v1h-1zM686 260h1v1h-1zM689 260h1v1h-1zM698 260h1v1h-1zM702 260h1v1h-1zM711 260h1v1h-1zM733 258h1v1h-1zM733 335h1v1h-1zM733 337h1v1h-1zM795 221h1v1h-1zM795 260h1v1h-1zM795 296h1v1h-1zM795 298h1v1h-1zM804 221h1v1h-1zM804 260h1v1h-1zM804 296h1v1h-1zM804 298h1v1h-1zM842 335h1v1h-1zM842 337h1v1h-1zM851 335h1v1h-1zM851 337h1v1h-1zM864 258h1v1h-1zM864 260h1v1h-1zM867 258h1v1h-1zM867 260h1v1h-1z"/>
<path fill="#df4545" d="M244 297h1v1h-1zM246 297h1v1h-1zM249 297h1v1h-1zM257 297h1v1h-1zM260 297h1v1h-1zM269 297h1v1h-1zM271 297h1v1h-1zM273 297h1v1h-1zM280 297h1v1h-1zM282 297h1v1h-1zM284 297h1v1h-1zM331 233h1v6h-1zM331 245h1v6h-1zM331 257h1v2h-1zM353 182h1v1h-1zM353 220h1v1h-1zM373 182h1v1h-1zM373 220h1v1h-1zM375 259h1v1h-1zM377 259h1v1h-1zM386 259h1v1h-1zM389 259h1v1h-1zM397 259h1v1h-1zM400 259h1v1h-1zM402 259h1v1h-1zM409 259h1v1h-1zM411 259h1v1h-1zM413 259h1v1h-1zM442 221h1v6h-1zM442 233h1v6h-1zM442 245h1v6h-1zM442 257h1v2h-1zM442 260h1v3h-1zM442 268h1v7h-1zM442 280h1v2h-1zM553 257h1v2h-1zM553 280h1v2h-1zM715 336h1v1h-1zM718 336h1v1h-1zM720 336h1v1h-1zM727 336h1v1h-1zM729 336h1v1h-1zM731 336h1v1h-1zM787 297h1v1h-1zM789 297h1v1h-1zM791 297h1v1h-1zM798 297h1v1h-1zM800 297h1v1h-1zM802 297h1v1h-1zM847 336h1v1h-1zM849 336h1v1h-1zM869 259h1v1h-1zM871 259h1v1h-1zM871 297h1v1h-1z"/>
<path fill="#7aa17a" d="M220 328h1v1h-1zM291 297h1v1h-1zM293 297h1v1h-1zM295 297h1v1h-1zM304 297h1v1h-1zM306 297h1v1h-1zM315 297h1v1h-1zM317 297h1v1h-1zM320 297h1v1h-1zM326 297h1v1h-1zM329 297h1v1h-1zM469 297h1v1h-1zM471 297h1v1h-1zM473 297h1v1h-1zM480 297h1v1h-1zM482 297h1v1h-1zM484 297h1v1h-1zM491 297h1v1h-1zM493 297h1v1h-1zM495 297h1v1h-1zM504 297h1v1h-1zM586 220h1v1h-1zM589 220h1v1h-1zM591 220h1v1h-1zM598 220h1v1h-1zM600 220h1v1h-1zM602 220h1v1h-1zM609 220h1v1h-1zM611 220h1v1h-1zM613 220h1v1h-1zM664 151h1v1h-1zM740 297h1v1h-1zM742 297h1v1h-1zM744 297h1v1h-1zM747 297h1v1h-1zM751 297h1v1h-1zM753 297h1v1h-1zM755 297h1v1h-1zM762 297h1v1h-1zM764 336h1v1h-1zM767 336h1v1h-1zM775 236h1v1h-1zM775 336h1v1h-1zM778 336h1v1h-1zM880 220h1v1h-1zM882 220h1v1h-1z"/>
<path fill="#228922" d="M220 280h1v2h-1zM291 182h1v1h-1zM291 220h1v1h-1zM291 259h1v1h-1zM295 182h2v1h-2zM295 220h2v1h-2zM295 259h2v1h-2zM304 182h5v1h-5zM304 220h5v1h-5zM304 259h5v1h-5zM315 182h6v1h-6zM315 220h6v1h-6zM315 259h6v1h-6zM326 182h4v1h-4zM326 220h4v1h-4zM326 259h4v1h-4zM468 259h4v1h-4zM473 259h1v1h-1zM479 259h2v1h-2zM484 259h2v1h-2zM491 259h1v1h-1zM493 259h4v1h-4zM504 259h2v1h-2zM585 259h7v1h-7zM597 259h4v1h-4zM609 259h3v1h-3zM613 259h2v1h-2zM664 186h1v6h-1zM664 198h1v6h-1zM664 210h1v6h-1zM664 218h1v1h-1zM764 297h4v1h-4zM774 297h1v1h-1zM775 260h1v3h-1zM775 268h1v7h-1zM775 280h1v6h-1zM775 292h1v6h-1zM775 304h1v6h-1zM776 297h4v1h-4zM853 297h1v1h-1zM856 297h5v1h-5zM873 259h1v1h-1zM884 105h2v1h-2zM884 144h2v1h-2zM884 182h2v1h-2z"/>
<path fill="#64b164" d="M231 219h1v1h-1zM231 221h1v1h-1zM231 258h1v1h-1zM231 260h1v1h-1zM231 296h1v1h-1zM231 298h1v1h-1zM240 219h1v1h-1zM240 221h1v1h-1zM240 258h1v1h-1zM240 260h1v1h-1zM240 296h1v1h-1zM240 298h1v1h-1zM297 296h1v1h-1zM300 296h1v1h-1zM309 296h1v1h-1zM502 219h1v1h-1zM502 221h1v1h-1zM502 258h1v1h-1zM502 260h1v1h-1zM502 296h1v1h-1zM615 221h1v1h-1zM618 221h1v1h-1zM655 181h1v1h-1zM664 181h1v1h-1zM758 298h1v1h-1zM758 335h1v1h-1zM758 337h1v1h-1zM771 258h1v1h-1zM771 260h1v1h-1zM771 296h1v1h-1zM771 298h1v1h-1zM771 335h1v1h-1zM773 258h1v1h-1zM773 335h1v1h-1zM780 258h1v1h-1zM780 335h1v1h-1z"/>
<path fill="#ec2626" d="M506 259h1v1h-1zM515 259h1v1h-1zM518 259h1v1h-1zM520 259h1v1h-1zM529 259h1v1h-1zM531 259h1v1h-1zM535 259h1v1h-1zM538 259h1v1h-1zM540 259h1v1h-1zM551 259h1v1h-1zM553 259h1v1h-1zM553 274h1v1h-1zM555 259h1v1h-1zM564 259h1v1h-1zM566 259h1v1h-1zM575 259h1v1h-1zM578 259h1v1h-1zM684 259h1v1h-1zM691 259h1v1h-1zM693 259h1v1h-1zM695 259h1v1h-1zM704 259h1v1h-1zM706 259h1v1h-1zM715 259h1v1h-1zM718 259h1v1h-1zM720 259h1v1h-1zM727 259h1v1h-1zM729 259h1v1h-1zM731 259h1v1h-1zM787 259h1v1h-1zM789 259h1v1h-1zM798 259h1v1h-1zM800 259h1v1h-1zM802 259h1v1h-1z"/>
<path fill="#ef2222" d="M330 182h2v1h-2zM330 220h1v1h-1zM331 175h1v5h-1zM331 186h1v6h-1zM331 198h1v6h-1zM331 210h1v6h-1zM331 218h1v1h-1zM331 220h1v7h-1zM338 182h5v1h-5zM338 220h5v1h-5zM350 182h2v1h-2zM350 220h2v1h-2zM355 182h1v1h-1zM355 220h1v1h-1zM362 182h1v1h-1zM362 220h1v1h-1zM364 182h4v1h-4zM364 220h4v1h-4zM553 260h1v3h-1zM553 268h1v6h-1zM684 182h2v1h-2zM684 220h2v1h-2zM691 182h1v1h-1zM691 220h1v1h-1zM693 182h5v1h-5zM693 220h5v1h-5zM703 182h6v1h-6zM703 220h6v1h-6zM715 297h6v1h-6zM727 297h5v1h-5zM824 297h3v1h-3zM833 297h6v1h-6zM868 297h2v1h-2z"/>
<path fill="#e53737" d="M331 174h1v1h-1zM507 259h2v1h-2zM516 259h2v1h-2zM519 259h1v1h-1zM527 259h2v1h-2zM530 259h1v1h-1zM539 259h1v1h-1zM550 259h1v1h-1zM554 259h1v1h-1zM565 259h1v1h-1zM567 259h1v1h-1zM574 259h1v1h-1zM576 259h2v1h-2zM579 259h1v1h-1zM685 259h1v1h-1zM694 259h1v1h-1zM696 259h2v1h-2zM703 259h1v1h-1zM705 259h1v1h-1zM707 259h2v1h-2zM716 259h2v1h-2zM719 259h1v1h-1zM728 259h1v1h-1zM730 259h1v1h-1zM786 259h1v1h-1zM788 259h1v1h-1zM797 259h1v1h-1zM799 259h1v1h-1zM803 259h1v1h-1zM809 259h1v1h-1zM813 259h2v1h-2zM822 259h2v1h-2z"/>
<path fill="#fd6464" d="M346 258h1v1h-1zM349 258h1v1h-1zM406 221h1v1h-1zM406 258h1v1h-1zM406 260h1v1h-1zM453 221h1v1h-1zM453 258h1v1h-1zM453 260h1v1h-1zM455 221h1v1h-1zM455 258h1v1h-1zM455 260h1v1h-1zM462 221h1v1h-1zM462 258h1v1h-1zM462 260h1v1h-1zM509 221h1v1h-1zM509 260h1v1h-1zM511 221h1v1h-1zM511 260h1v1h-1zM558 258h1v1h-1zM724 258h1v1h-1zM724 335h1v1h-1zM724 337h1v1h-1zM820 296h1v1h-1zM827 260h1v1h-1zM829 260h1v1h-1z"/>
<path fill="#268926" d="M220 274h1v1h-1zM220 282h1v1h-1zM624 220h1v1h-1zM626 220h1v1h-1zM633 220h1v1h-1zM635 220h1v1h-1zM638 220h1v1h-1zM644 220h1v1h-1zM646 220h1v1h-1zM649 220h1v1h-1zM658 182h1v1h-1zM660 182h1v1h-1zM669 182h1v1h-1zM671 182h1v1h-1zM673 182h1v1h-1zM680 182h1v1h-1zM682 182h1v1h-1zM764 259h1v1h-1zM767 259h1v1h-1zM775 259h1v1h-1zM778 259h1v1h-1zM873 297h1v1h-1z"/>
<path fill="#378e37" d="M625 220h1v1h-1zM634 220h1v1h-1zM636 220h2v1h-2zM645 220h1v1h-1zM647 220h2v1h-2zM656 182h2v1h-2zM656 220h5v1h-5zM659 182h1v1h-1zM668 182h1v1h-1zM668 220h4v1h-4zM670 182h1v1h-1zM673 220h1v1h-1zM680 220h1v1h-1zM682 220h2v1h-2zM683 182h1v1h-1zM765 259h2v1h-2zM774 259h1v1h-1zM776 259h2v1h-2zM779 259h1v1h-1zM884 220h2v1h-2z"/>
<path fill="#ff7c7c" d="M253 274h1v1h-1zM253 290h1v1h-1zM273 274h1v1h-1zM273 290h1v1h-1zM333 228h1v1h-1zM353 228h1v1h-1zM373 228h1v1h-1zM522 236h1v1h-1zM522 259h1v1h-1zM542 236h1v1h-1zM562 274h1v1h-1zM582 274h1v1h-1zM791 251h1v1h-1zM811 266h1v1h-1zM831 266h1v1h-1zM851 320h1v1h-1zM851 328h1v1h-1zM871 274h1v1h-1zM871 305h1v1h-1z"/>
<path fill="#64b264" d="M322 296h1v1h-1zM324 296h1v1h-1zM478 219h1v1h-1zM478 221h1v1h-1zM478 296h1v1h-1zM486 219h1v1h-1zM486 221h1v1h-1zM486 296h1v1h-1zM584 221h1v1h-1zM593 221h1v1h-1zM640 219h1v1h-1zM642 219h1v1h-1zM642 221h1v1h-1zM749 298h1v1h-1zM749 335h1v1h-1zM749 337h1v1h-1zM855 258h1v1h-1zM855 260h1v1h-1z"/>
<path fill="#268d26" d="M288 182h1v1h-1zM288 220h1v1h-1zM288 259h1v1h-1zM302 182h1v1h-1zM302 220h1v1h-1zM302 259h1v1h-1zM464 259h1v1h-1zM500 259h1v1h-1zM606 259h1v1h-1zM664 183h1v1h-1zM664 197h1v1h-1zM768 297h1v1h-1zM775 289h1v1h-1zM775 303h1v1h-1zM782 297h1v1h-1zM874 259h1v1h-1z"/>
<path fill="#7cbd7c" d="M233 274h1v1h-1zM233 282h1v1h-1zM293 167h1v1h-1zM293 290h1v1h-1zM313 167h1v1h-1zM313 290h1v1h-1zM482 228h1v1h-1zM482 266h1v1h-1zM502 228h1v1h-1zM502 266h1v1h-1zM602 228h1v1h-1zM602 274h1v1h-1zM622 236h1v1h-1zM642 236h1v1h-1zM771 313h1v1h-1z"/>
<path fill="#2f962f" d="M220 276h1v1h-1zM321 182h1v1h-1zM321 220h1v1h-1zM321 259h1v1h-1zM325 182h1v1h-1zM325 220h1v1h-1zM325 259h1v1h-1zM477 259h1v1h-1zM487 259h1v1h-1zM593 259h1v1h-1zM664 216h1v1h-1zM775 266h1v1h-1zM775 276h1v1h-1zM855 297h1v1h-1z"/>
<path fill="#2a912a" d="M290 182h1v1h-1zM290 220h1v1h-1zM290 259h1v1h-1zM300 182h1v1h-1zM300 220h1v1h-1zM300 259h1v1h-1zM608 259h1v1h-1zM618 259h1v1h-1zM664 185h1v1h-1zM664 195h1v1h-1zM775 291h1v1h-1zM775 301h1v1h-1zM780 297h1v1h-1zM876 259h1v1h-1z"/>
<path fill="#2c922c" d="M287 182h1v1h-1zM287 220h1v1h-1zM287 259h1v1h-1zM309 182h1v1h-1zM309 220h1v1h-1zM309 259h1v1h-1zM465 259h1v1h-1zM499 259h1v1h-1zM605 259h1v1h-1zM664 204h1v1h-1zM775 288h1v1h-1zM775 310h1v1h-1zM783 297h1v1h-1z"/>
<path fill="#288f28" d="M297 182h1v1h-1zM297 220h1v1h-1zM297 259h1v1h-1zM299 182h1v1h-1zM299 220h1v1h-1zM299 259h1v1h-1zM615 259h1v1h-1zM617 259h1v1h-1zM664 192h1v1h-1zM664 194h1v1h-1zM773 297h1v1h-1zM775 300h1v1h-1zM877 259h1v1h-1z"/>
<path fill="#479447" d="M220 209h1v1h-1zM220 227h1v1h-1zM220 265h1v1h-1zM220 315h1v1h-1zM226 220h1v1h-1zM226 259h1v1h-1zM226 297h1v1h-1zM664 159h1v1h-1zM664 171h1v1h-1zM775 315h1v1h-1zM775 333h1v1h-1zM862 259h1v1h-1z"/>
<path fill="#e33b3b" d="M422 259h1v1h-1zM424 259h1v1h-1zM426 259h1v1h-1zM429 259h1v1h-1zM433 259h1v1h-1zM435 259h1v1h-1zM442 259h1v1h-1zM444 259h1v1h-1zM446 259h1v1h-1zM449 259h1v1h-1zM458 259h1v1h-1zM460 259h1v1h-1z"/>
<path fill="#55a255" d="M220 241h1v1h-1zM220 251h1v1h-1zM220 291h1v1h-1zM220 301h1v1h-1zM240 220h1v1h-1zM240 259h1v1h-1zM240 297h1v1h-1zM502 220h1v1h-1zM502 259h1v1h-1zM775 241h1v1h-1zM775 251h1v1h-1z"/>
<path fill="#4b984b" d="M220 206h1v1h-1zM220 230h1v1h-1zM220 256h1v1h-1zM220 286h1v1h-1zM220 312h1v1h-1zM229 220h1v1h-1zM229 259h1v1h-1zM229 297h1v1h-1zM664 180h1v1h-1zM775 256h1v1h-1z"/>
<path fill="#5fac5f" d="M220 216h1v1h-1zM220 266h1v1h-1zM220 322h1v1h-1zM220 326h1v1h-1zM664 160h1v1h-1zM664 170h1v1h-1zM749 336h1v1h-1zM775 322h1v1h-1zM775 326h1v1h-1zM855 259h1v1h-1z"/>
<path fill="#f25959" d="M253 297h1v1h-1zM331 232h1v1h-1zM331 254h1v1h-1zM393 259h1v1h-1zM415 259h1v1h-1zM442 232h1v1h-1zM442 254h1v1h-1zM553 254h1v1h-1zM733 336h1v1h-1zM867 259h1v1h-1z"/>
<path fill="#f12525" d="M331 180h1v1h-1zM331 206h1v1h-1zM335 182h1v1h-1zM335 220h1v1h-1zM361 182h1v1h-1zM361 220h1v1h-1zM709 182h1v1h-1zM709 220h1v1h-1zM735 297h1v1h-1zM865 297h1v1h-1z"/>
<path fill="#fa2e2e" d="M331 207h1v1h-1zM368 182h1v1h-1zM368 220h1v1h-1zM553 263h1v1h-1zM686 182h1v1h-1zM686 220h1v1h-1zM702 182h1v1h-1zM702 220h1v1h-1zM736 297h1v1h-1zM864 297h1v1h-1z"/>
<path fill="#ef2323" d="M331 209h1v1h-1zM331 227h1v1h-1zM370 182h1v1h-1zM370 220h1v1h-1zM553 265h1v1h-1zM688 182h1v1h-1zM688 220h1v1h-1zM700 182h1v1h-1zM700 220h1v1h-1zM738 297h1v1h-1z"/>
<path fill="#59a659" d="M220 204h1v1h-1zM220 232h1v1h-1zM220 254h1v1h-1zM220 288h1v1h-1zM220 310h1v1h-1zM231 220h1v1h-1zM231 259h1v1h-1zM231 297h1v1h-1zM775 254h1v1h-1z"/>
<path fill="#e44b4b" d="M255 297h1v1h-1zM331 230h1v1h-1zM331 256h1v1h-1zM391 259h1v1h-1zM417 259h1v1h-1zM442 230h1v1h-1zM442 256h1v1h-1zM553 256h1v1h-1zM735 336h1v1h-1z"/>
<path fill="#f65c5c" d="M262 297h1v1h-1zM331 229h1v1h-1zM384 259h1v1h-1zM442 229h1v1h-1zM442 263h1v1h-1zM442 279h1v1h-1zM553 279h1v1h-1zM842 336h1v1h-1zM864 259h1v1h-1z"/>
<path fill="#258b25" d="M311 182h1v1h-1zM311 220h1v1h-1zM311 259h1v1h-1zM467 259h1v1h-1zM497 259h1v1h-1zM664 206h1v1h-1zM775 286h1v1h-1zM775 312h1v1h-1zM785 297h1v1h-1z"/>
<path fill="#f52828" d="M331 192h1v1h-1zM331 194h1v1h-1zM347 182h1v1h-1zM347 220h1v1h-1zM349 182h1v1h-1zM349 220h1v1h-1zM723 297h1v1h-1zM827 297h1v1h-1zM829 297h1v1h-1z"/>
<path fill="#f82c2c" d="M331 204h1v1h-1zM337 182h1v1h-1zM337 220h1v1h-1zM359 182h1v1h-1zM359 220h1v1h-1zM711 182h1v1h-1zM711 220h1v1h-1zM733 297h1v1h-1zM867 297h1v1h-1z"/>
<path fill="#4e9b4e" d="M220 239h1v1h-1zM220 253h1v1h-1zM220 289h1v1h-1zM220 303h1v1h-1zM464 220h1v1h-1zM500 220h1v1h-1zM775 239h1v1h-1zM775 253h1v1h-1z"/>
<path fill="#238923" d="M220 277h1v1h-1zM476 259h1v1h-1zM488 259h1v1h-1zM594 259h1v1h-1zM664 209h1v1h-1zM775 265h1v1h-1zM775 277h1v1h-1zM862 297h1v1h-1z"/>
<path fill="#e14747" d="M264 297h1v1h-1zM382 259h1v1h-1zM442 227h1v1h-1zM442 265h1v1h-1zM442 277h1v1h-1zM553 277h1v1h-1zM738 336h1v1h-1zM844 336h1v1h-1z"/>
<path fill="#f72a2a" d="M331 185h1v1h-1zM331 195h1v1h-1zM346 182h1v1h-1zM346 220h1v1h-1zM356 182h1v1h-1zM356 220h1v1h-1zM714 297h1v1h-1zM724 297h1v1h-1z"/>
<path fill="#fc2f2f" d="M331 216h1v1h-1zM371 182h1v1h-1zM371 220h1v1h-1zM553 266h1v1h-1zM689 182h1v1h-1zM689 220h1v1h-1zM699 182h1v1h-1zM699 220h1v1h-1z"/>
<path fill="#309730" d="M664 219h1v1h-1zM665 183h1v1h-1zM774 260h1v1h-1zM774 296h1v1h-1zM774 298h1v1h-1zM776 260h1v1h-1zM776 296h1v1h-1zM776 298h1v1h-1z"/>
<path fill="#89b089" d="M220 197h1v1h-1zM302 297h1v1h-1zM464 297h1v1h-1zM500 297h1v1h-1zM606 220h1v1h-1zM662 220h1v1h-1zM782 336h1v1h-1z"/>
<path fill="#5ca95c" d="M220 207h1v1h-1zM220 229h1v1h-1zM220 263h1v1h-1zM220 313h1v1h-1zM664 157h1v1h-1zM664 173h1v1h-1zM758 336h1v1h-1z"/>
<path fill="#2e942e" d="M220 279h1v1h-1zM474 259h1v1h-1zM490 259h1v1h-1zM596 259h1v1h-1zM664 207h1v1h-1zM775 263h1v1h-1zM775 279h1v1h-1z"/>
<path fill="#f5a8a8" d="M275 259h1v1h-1zM371 259h1v1h-1zM427 259h1v1h-1zM431 220h1v1h-1zM442 220h1v1h-1zM533 220h1v1h-1zM795 220h1v1h-1z"/>
<path fill="#f32626" d="M331 183h1v1h-1zM331 197h1v1h-1zM344 182h1v1h-1zM344 220h1v1h-1zM358 182h1v1h-1zM358 220h1v1h-1zM726 297h1v1h-1z"/>
<path fill="#dc8f8f" d="M349 259h1v1h-1zM453 220h1v1h-1zM455 220h1v1h-1zM509 220h1v1h-1zM511 220h1v1h-1zM827 259h1v1h-1zM829 259h1v1h-1z"/>
<path fill="#519f51" d="M220 242h1v1h-1zM220 244h1v1h-1zM220 300h1v1h-1zM771 297h1v1h-1zM775 242h1v1h-1zM775 244h1v1h-1z"/>
<path fill="#d08383" d="M255 259h1v1h-1zM335 259h1v1h-1zM391 220h1v1h-1zM417 220h1v1h-1zM441 259h1v1h-1zM815 297h1v1h-1z"/>
<path fill="#ca7d7d" d="M264 259h1v1h-1zM382 220h1v1h-1zM420 220h1v1h-1zM438 220h1v1h-1zM526 220h1v1h-1zM544 220h1v1h-1z"/>
<path fill="#f95f5f" d="M275 297h1v1h-1zM442 266h1v1h-1zM442 276h1v1h-1zM553 276h1v1h-1zM795 297h1v1h-1zM851 336h1v1h-1z"/>
<path fill="#fd4e4e" d="M330 174h1v1h-1zM534 259h1v1h-1zM536 259h1v1h-1zM554 274h1v1h-1zM690 259h1v1h-1zM796 259h1v1h-1z"/>
<path fill="#ef5555" d="M331 241h1v1h-1zM331 251h1v1h-1zM406 259h1v1h-1zM442 241h1v1h-1zM442 251h1v1h-1zM724 336h1v1h-1z"/>
<path fill="#fbaeae" d="M266 259h1v1h-1zM380 220h1v1h-1zM428 259h1v1h-1zM430 259h1v1h-1zM804 220h1v1h-1z"/>
<path fill="#aed5ae" d="M322 297h1v1h-1zM324 297h1v1h-1zM478 297h1v1h-1zM486 297h1v1h-1zM584 220h1v1h-1z"/>
<path fill="#e74e4e" d="M331 239h1v1h-1zM331 253h1v1h-1zM442 239h1v1h-1zM442 253h1v1h-1zM553 253h1v1h-1z"/>
<path fill="#e39696" d="M346 259h1v1h-1zM406 220h1v1h-1zM462 220h1v1h-1zM553 251h1v1h-1zM820 297h1v1h-1z"/>
<path fill="#ec3d3d" d="M514 259h1v1h-1zM556 259h1v1h-1zM570 259h1v1h-1zM726 259h1v1h-1zM818 259h1v1h-1z"/>
<path fill="#f93232" d="M524 259h1v1h-1zM546 259h1v1h-1zM580 259h1v1h-1zM686 259h1v1h-1zM702 259h1v1h-1z"/>
<path fill="#469d46" d="M627 220h1v1h-1zM655 220h1v1h-1zM677 182h1v1h-1zM677 220h1v1h-1zM783 259h1v1h-1z"/>
<path fill="#409840" d="M665 182h1v1h-1zM665 220h1v1h-1zM667 182h1v1h-1zM667 220h1v1h-1zM877 297h1v1h-1z"/>
<path fill="#4ea64e" d="M219 274h1v1h-1zM219 282h1v1h-1zM221 274h1v1h-1zM221 282h1v1h-1z"/>
<path fill="#e99c9c" d="M253 259h1v1h-1zM337 259h1v1h-1zM393 220h1v1h-1zM415 220h1v1h-1z"/>
<path fill="#efa2a2" d="M262 259h1v1h-1zM384 220h1v1h-1zM440 220h1v1h-1zM524 220h1v1h-1z"/>
<path fill="#8fb68f" d="M297 297h1v1h-1zM615 220h1v1h-1zM771 336h1v1h-1zM773 336h1v1h-1z"/>
<path fill="#96bc96" d="M300 297h1v1h-1zM502 297h1v1h-1zM618 220h1v1h-1zM780 336h1v1h-1z"/>
<path fill="#fd3030" d="M330 183h1v1h-1zM330 221h1v1h-1zM331 219h1v1h-1zM554 260h1v1h-1z"/>
<path fill="#eb5151" d="M331 242h1v1h-1zM331 244h1v1h-1zM442 242h1v1h-1zM442 244h1v1h-1z"/>
<path fill="#ee2727" d="M526 259h1v1h-1zM544 259h1v1h-1zM700 259h1v1h-1zM738 259h1v1h-1z"/>
<path fill="#f73030" d="M549 259h1v1h-1zM571 259h1v1h-1zM711 259h1v1h-1zM733 259h1v1h-1z"/>
<path fill="#3b923b" d="M653 220h1v1h-1zM679 182h1v1h-1zM679 220h1v1h-1zM785 259h1v1h-1z"/>
<path fill="#3d953d" d="M676 182h1v1h-1zM676 220h1v1h-1zM768 259h1v1h-1zM874 297h1v1h-1z"/>
<path fill="#d68989" d="M344 259h1v1h-1zM450 259h1v1h-1zM818 297h1v1h-1z"/>
<path fill="#fb3434" d="M533 259h1v1h-1zM689 259h1v1h-1zM795 259h1v1h-1z"/>
<path fill="#fa4b4b" d="M537 259h1v1h-1zM699 259h1v1h-1zM805 259h1v1h-1z"/>
<path fill="#d75555" d="M542 259h1v1h-1zM562 259h1v1h-1zM791 259h1v1h-1z"/>
<path fill="#f24343" d="M568 259h1v1h-1zM714 259h1v1h-1zM820 259h1v1h-1z"/>
<path fill="#ef2929" d="M573 259h1v1h-1zM709 259h1v1h-1zM735 259h1v1h-1z"/>
<path fill="#439b43" d="M674 182h1v1h-1zM674 220h1v1h-1zM876 297h1v1h-1z"/>
<path fill="#e73838" d="M688 259h1v1h-1zM794 259h1v1h-1zM806 259h1v1h-1z"/>
<path fill="#e43c3c" d="M420 259h1v1h-1zM438 259h1v1h-1z"/>
<path fill="#ed4545" d="M453 259h1v1h-1zM455 259h1v1h-1z"/>
<path fill="#f32c2c" d="M509 259h1v1h-1zM511 259h1v1h-1z"/>
<path fill="#e93b3b" d="M547 259h1v1h-1zM815 259h1v1h-1z"/>
<path fill="#f52e2e" d="M558 259h1v1h-1zM724 259h1v1h-1z"/>
<path fill="#ef4040" d="M559 259h1v1h-1zM723 259h1v1h-1z"/>
<path fill="#a8cea8" d="M593 220h1v1h-1zM749 297h1v1h-1z"/>
<path fill="#2a8e2a" d="M620 220h1v1h-1zM782 259h1v1h-1z"/>
<path fill="#298c29" d="M629 220h1v1h-1zM653 182h1v1h-1z"/>
<path fill="#fd3636" d="M698 259h1v1h-1zM804 259h1v1h-1z"/>
<path fill="#f74949" d="M736 259h1v1h-1zM808 259h1v1h-1z"/>
<path fill="#4fa74f" d="M774 313h1v1h-1zM776 313h1v1h-1z"/>
<path fill="#61ae61" d="M220 219h1v1h-1z"/>
<path fill="#519e51" d="M220 298h1v1h-1z"/>
<path fill="#9cc39c" d="M309 297h1v1h-1z"/>
<path fill="#83aa83" d="M311 297h1v1h-1z"/>
<path fill="#fa5151" d="M431 259h1v1h-1z"/>
<path fill="#f64e4e" d="M440 259h1v1h-1z"/>
<path fill="#ff5656" d="M451 259h1v1h-1z"/>
<path fill="#f14848" d="M462 259h1v1h-1z"/>
<path fill="#d95757" d="M582 259h1v1h-1z"/>
<path fill="#559755" d="M622 220h1v1h-1z"/>
<path fill="#49a049" d="M630 220h1v1h-1z"/>
<path fill="#4ba34b" d="M639 220h1v1h-1z"/>
<path fill="#369a36" d="M640 220h1v1h-1z"/>
<path fill="#79bb79" d="M642 220h1v1h-1z"/>
<path fill="#388f38" d="M650 220h1v1h-1z"/>
<path fill="#309430" d="M655 182h1v1h-1z"/>
<path fill="#5fa15f" d="M662 182h1v1h-1z"/>
<path fill="#2b8f2b" d="M664 182h1v1h-1z"/>
<path fill="#419841" d="M664 220h1v1h-1z"/>
<path fill="#a2c9a2" d="M758 297h1v1h-1z"/>
<path fill="#63a563" d="M771 259h1v1h-1z"/>
<path fill="#2c902c" d="M773 259h1v1h-1z"/>
<path fill="#288e28" d="M775 298h1v1h-1z"/>
<path fill="#329632" d="M775 313h1v1h-1z"/>
<path fill="#5ba85b" d="M775 335h1v1h-1z"/>
<path fill="#2e922e" d="M780 259h1v1h-1z"/>
<path fill="#f44646" d="M817 259h1v1h-1z"/></g>
<g id="volume" shape-rendering="crispEdges"><path fill="#3377af" d="M242 426h1v1h-1zM244 426h1v1h-1zM246 426h1v1h-1zM247 427h4v20h-4zM247 450h4v22h-4zM251 426h1v1h-1zM253 426h1v1h-1zM255 426h1v1h-1zM256 427h4v20h-4zM256 450h4v22h-4zM260 426h1v1h-1zM262 426h1v1h-1zM264 426h1v1h-1zM266 426h1v1h-1zM267 427h4v20h-4zM267 450h4v22h-4zM271 426h1v1h-1zM273 426h1v1h-1zM275 426h1v1h-1zM276 427h1v20h-1zM276 450h1v22h-1zM277 427h1v45h-1zM278 427h2v20h-2zM278 450h2v22h-2zM280 426h1v1h-1zM282 426h1v1h-1zM284 426h1v1h-1zM330 452h1v1h-1zM330 461h1v1h-1zM330 464h1v1h-1zM333 439h1v1h-1zM335 439h1v1h-1zM336 440h1v32h-1zM337 440h3v7h-3zM337 450h3v22h-3zM340 439h1v1h-1zM342 439h1v1h-1zM344 439h1v1h-1zM346 439h1v1h-1zM347 440h1v7h-1zM347 450h1v22h-1zM348 440h1v32h-1zM349 440h2v7h-2zM349 450h2v22h-2zM351 439h1v1h-1zM353 439h1v1h-1zM355 439h1v1h-1zM356 440h1v7h-1zM356 450h1v22h-1zM357 440h1v32h-1zM358 440h2v7h-2zM358 450h2v22h-2zM360 439h1v1h-1zM362 439h1v1h-1zM364 439h1v1h-1zM366 439h1v1h-1zM367 440h2v7h-2zM367 450h2v22h-2zM369 439h1v1h-1zM371 439h1v1h-1zM373 439h1v1h-1zM374 440h1v7h-1zM376 450h4v22h-4zM387 450h2v22h-2zM395 448h1v1h-1zM396 450h4v22h-4zM404 448h1v1h-1zM407 449h1v23h-1zM408 450h1v22h-1zM416 449h1v23h-1zM417 450h2v22h-2zM419 444h1v28h-1zM420 443h1v1h-1zM422 443h1v1h-1zM424 443h1v1h-1zM426 443h1v1h-1zM427 444h2v3h-2zM427 450h2v22h-2zM429 443h1v1h-1zM431 443h1v1h-1zM433 443h1v1h-1zM435 443h1v1h-1zM436 444h3v3h-3zM436 450h3v22h-3zM439 444h1v28h-1zM440 443h1v1h-1zM444 443h1v1h-1zM446 443h1v1h-1zM447 444h2v3h-2zM447 450h2v22h-2zM449 443h1v1h-1zM451 443h1v1h-1zM453 443h1v1h-1zM455 443h1v1h-1zM456 444h4v3h-4zM456 450h4v22h-4zM460 443h1v1h-1zM462 443h1v1h-1zM506 458h3v14h-3zM509 457h1v1h-1zM511 457h1v1h-1zM513 457h1v1h-1zM515 457h1v1h-1zM516 458h4v14h-4zM520 457h1v1h-1zM522 457h1v1h-1zM524 457h1v1h-1zM525 458h4v14h-4zM529 457h1v1h-1zM531 457h1v1h-1zM533 457h1v1h-1zM535 457h1v1h-1zM536 458h4v14h-4zM540 457h1v1h-1zM542 457h1v1h-1zM544 457h1v1h-1zM545 458h1v14h-1zM546 456h3v16h-3zM549 455h1v1h-1zM551 455h1v1h-1zM555 455h1v1h-1zM556 456h4v16h-4zM560 455h1v1h-1zM562 455h1v1h-1zM564 455h1v1h-1zM565 456h4v16h-4zM569 455h1v1h-1zM571 455h1v1h-1zM573 455h1v1h-1zM575 455h1v1h-1zM576 456h4v16h-4zM580 455h1v1h-1zM582 455h1v1h-1zM684 443h1v1h-1zM685 444h2v3h-2zM685 450h2v22h-2zM687 444h1v28h-1zM688 444h1v3h-1zM688 450h1v22h-1zM689 443h1v1h-1zM691 443h1v1h-1zM693 443h1v1h-1zM695 443h1v1h-1zM696 444h2v3h-2zM696 450h2v22h-2zM698 443h1v1h-1zM700 443h1v1h-1zM702 443h1v1h-1zM704 443h1v1h-1zM705 444h4v3h-4zM705 450h4v22h-4zM709 443h1v1h-1zM711 443h1v1h-1zM712 403h1v14h-1zM712 420h1v23h-1zM713 402h1v1h-1zM715 402h1v1h-1zM716 403h2v14h-2zM716 420h2v27h-2zM716 450h2v22h-2zM718 402h1v1h-1zM720 402h1v1h-1zM722 402h1v1h-1zM724 402h1v1h-1zM725 403h1v69h-1zM726 403h3v14h-3zM726 420h3v27h-3zM726 450h3v22h-3zM729 402h1v1h-1zM731 402h1v1h-1zM733 402h1v1h-1zM735 402h1v1h-1zM736 403h1v14h-1zM736 420h1v27h-1zM736 450h1v22h-1zM737 403h1v69h-1zM738 402h1v1h-1zM739 403h1v14h-1zM739 420h1v10h-1zM786 439h3v8h-3zM786 450h3v22h-3zM789 438h1v1h-1zM791 438h1v1h-1zM793 438h1v1h-1zM794 439h4v8h-4zM794 450h4v22h-4zM798 438h1v1h-1zM800 438h1v1h-1zM802 438h1v1h-1zM804 438h1v1h-1zM805 439h1v8h-1zM805 450h1v22h-1zM806 459h3v13h-3zM809 458h1v1h-1zM811 458h1v1h-1zM813 458h1v1h-1zM814 459h4v13h-4zM818 458h1v1h-1zM820 458h1v1h-1zM822 458h1v1h-1zM823 454h1v4h-1zM824 453h1v1h-1zM825 454h4v18h-4zM829 453h1v1h-1zM831 453h1v1h-1zM833 453h1v1h-1zM834 454h4v18h-4zM838 453h1v1h-1zM839 428h1v19h-1zM839 450h1v3h-1zM840 427h1v1h-1zM842 427h1v1h-1zM844 427h1v1h-1zM845 428h4v19h-4zM845 450h4v22h-4zM849 427h1v1h-1zM851 427h1v1h-1zM852 428h1v9h-1zM864 441h1v1h-1zM865 442h1v5h-1zM865 450h1v22h-1zM866 442h1v30h-1zM867 442h2v5h-2zM867 450h2v22h-2zM869 441h1v1h-1zM871 441h1v1h-1zM872 442h1v5h-1z"/>
<path fill="#277daf" d="M219 405h1v1h-1zM219 414h1v1h-1zM219 426h1v1h-1zM219 429h1v1h-1zM219 452h1v1h-1zM219 461h1v1h-1zM219 464h1v1h-1zM222 403h1v1h-1zM224 403h1v1h-1zM226 403h1v1h-1zM227 404h1v68h-1zM228 404h2v13h-2zM228 420h2v27h-2zM228 450h2v22h-2zM230 404h1v68h-1zM231 403h1v1h-1zM233 403h1v1h-1zM235 403h1v1h-1zM236 404h3v13h-3zM236 420h3v27h-3zM236 450h3v22h-3zM239 404h1v68h-1zM240 403h1v1h-1zM241 404h1v13h-1zM241 420h1v6h-1zM285 413h1v4h-1zM285 420h1v6h-1zM286 412h1v1h-1zM287 413h2v4h-2zM287 420h2v27h-2zM287 450h2v22h-2zM289 413h1v59h-1zM290 413h1v4h-1zM290 420h1v27h-1zM290 450h1v22h-1zM291 412h1v1h-1zM293 412h1v1h-1zM295 412h1v1h-1zM296 413h2v4h-2zM296 420h2v27h-2zM296 450h2v22h-2zM298 413h1v59h-1zM299 413h1v4h-1zM299 420h1v27h-1zM299 450h1v22h-1zM300 412h1v1h-1zM302 412h1v1h-1zM304 412h1v1h-1zM306 412h1v1h-1zM307 413h3v4h-3zM307 420h3v27h-3zM307 450h3v22h-3zM310 413h1v59h-1zM311 412h1v1h-1zM313 412h1v1h-1zM315 412h1v1h-1zM316 413h4v4h-4zM316 420h4v27h-4zM316 450h4v22h-4zM320 412h1v1h-1zM322 412h1v1h-1zM324 412h1v1h-1zM326 412h1v1h-1zM327 413h3v4h-3zM327 420h3v27h-3zM327 450h3v22h-3zM463 428h1v15h-1zM464 427h1v1h-1zM466 427h1v1h-1zM467 428h2v19h-2zM467 450h2v22h-2zM469 427h1v1h-1zM471 427h1v1h-1zM473 427h1v1h-1zM475 427h1v1h-1zM476 428h4v19h-4zM476 450h4v22h-4zM480 427h1v1h-1zM482 427h1v1h-1zM484 427h1v1h-1zM486 427h1v1h-1zM487 428h2v19h-2zM487 450h2v22h-2zM489 427h1v1h-1zM491 427h1v1h-1zM493 427h1v1h-1zM495 427h1v1h-1zM496 428h2v19h-2zM496 450h2v22h-2zM498 428h1v44h-1zM499 428h1v19h-1zM499 450h1v22h-1zM500 427h1v1h-1zM502 427h1v1h-1zM504 427h1v1h-1zM505 428h1v19h-1zM505 450h1v22h-1zM584 455h1v1h-1zM585 456h4v16h-4zM589 455h1v1h-1zM591 455h1v1h-1zM593 455h1v1h-1zM595 455h1v1h-1zM596 456h4v16h-4zM600 455h1v1h-1zM602 455h1v1h-1zM604 455h1v1h-1zM605 456h4v16h-4zM609 455h1v1h-1zM611 455h1v1h-1zM613 455h1v1h-1zM615 455h1v1h-1zM616 456h3v16h-3zM619 439h1v33h-1zM620 438h1v1h-1zM622 438h1v1h-1zM624 438h1v1h-1zM625 439h3v8h-3zM625 450h3v22h-3zM628 439h1v33h-1zM629 438h1v1h-1zM631 438h1v1h-1zM633 438h1v1h-1zM635 438h1v1h-1zM636 439h4v8h-4zM636 450h4v22h-4zM640 438h1v1h-1zM642 438h1v1h-1zM644 438h1v1h-1zM645 439h4v8h-4zM645 450h4v22h-4zM649 438h1v1h-1zM651 438h1v1h-1zM652 420h1v18h-1zM656 420h2v27h-2zM656 450h2v22h-2zM665 426h1v1h-1zM665 429h1v1h-1zM665 452h1v1h-1zM665 461h1v1h-1zM665 464h1v1h-1zM666 419h1v53h-1zM667 420h2v27h-2zM667 450h2v22h-2zM675 418h1v1h-1zM676 420h2v27h-2zM676 450h2v22h-2zM678 418h1v1h-1zM683 420h1v23h-1zM740 430h1v1h-1zM742 430h1v1h-1zM744 430h1v1h-1zM745 431h4v16h-4zM745 450h4v22h-4zM749 430h1v1h-1zM751 430h1v1h-1zM753 430h1v1h-1zM755 430h1v1h-1zM756 431h1v16h-1zM756 450h1v22h-1zM757 431h1v41h-1zM758 430h1v1h-1zM760 430h1v1h-1zM762 430h1v1h-1zM763 431h1v3h-1zM764 434h1v1h-1zM765 435h4v12h-4zM765 450h4v22h-4zM769 434h1v1h-1zM771 434h1v1h-1zM773 434h1v1h-1zM776 452h1v1h-1zM776 461h1v1h-1zM776 464h1v1h-1zM777 435h1v12h-1zM777 450h1v22h-1zM778 434h1v1h-1zM780 434h1v1h-1zM782 434h1v1h-1zM784 434h1v1h-1zM785 435h1v12h-1zM785 450h1v22h-1zM853 437h1v1h-1zM854 438h4v9h-4zM854 450h4v22h-4zM858 437h1v1h-1zM860 437h1v1h-1zM862 437h1v1h-1zM863 438h1v3h-1zM874 450h1v22h-1zM875 449h1v23h-1zM876 450h2v22h-2zM878 448h1v1h-1zM879 450h1v2h-1zM880 452h1v1h-1zM882 452h1v1h-1zM883 368h1v20h-1zM883 391h1v26h-1zM883 420h1v27h-1zM883 450h1v2h-1zM884 367h1v1h-1zM885 368h1v20h-1zM885 391h1v26h-1zM885 420h1v27h-1zM885 450h1v22h-1z"/>
<path fill="#ff0000" d="M242 427h1v45h-1zM244 427h1v45h-1zM246 427h1v45h-1zM251 427h1v45h-1zM253 427h1v45h-1zM255 427h1v45h-1zM260 427h1v45h-1zM262 427h1v45h-1zM264 427h1v45h-1zM266 427h1v45h-1zM271 427h1v45h-1zM273 427h1v45h-1zM275 427h1v45h-1zM280 427h1v45h-1zM282 427h1v45h-1zM284 427h1v45h-1zM331 440h1v32h-1zM333 440h1v32h-1zM335 440h1v32h-1zM340 440h1v32h-1zM342 440h1v32h-1zM344 440h1v32h-1zM346 440h1v32h-1zM351 440h1v32h-1zM353 440h1v32h-1zM355 440h1v32h-1zM360 440h1v32h-1zM362 440h1v32h-1zM364 440h1v32h-1zM366 440h1v32h-1zM369 440h1v32h-1zM371 440h1v32h-1zM373 440h1v32h-1zM375 449h1v23h-1zM380 449h1v23h-1zM382 449h1v23h-1zM384 449h1v23h-1zM386 449h1v23h-1zM389 449h1v23h-1zM391 449h1v23h-1zM393 449h1v23h-1zM395 449h1v23h-1zM400 449h1v23h-1zM402 449h1v23h-1zM404 449h1v23h-1zM406 449h1v23h-1zM409 449h1v23h-1zM411 449h1v23h-1zM413 449h1v23h-1zM415 449h1v23h-1zM420 444h1v28h-1zM422 444h1v28h-1zM424 444h1v28h-1zM426 444h1v28h-1zM429 444h1v28h-1zM431 444h1v28h-1zM433 444h1v28h-1zM435 444h1v28h-1zM440 444h1v28h-1zM442 444h1v28h-1zM444 444h1v28h-1zM446 444h1v28h-1zM449 444h1v28h-1zM451 444h1v28h-1zM453 444h1v28h-1zM455 444h1v28h-1zM460 444h1v28h-1zM462 444h1v28h-1zM509 458h1v14h-1zM511 458h1v14h-1zM513 458h1v14h-1zM515 458h1v14h-1zM520 458h1v14h-1zM522 458h1v14h-1zM524 458h1v14h-1zM529 458h1v14h-1zM531 458h1v14h-1zM533 458h1v14h-1zM535 458h1v14h-1zM540 458h1v14h-1zM542 458h1v14h-1zM544 458h1v14h-1zM549 456h1v16h-1zM551 456h1v16h-1zM553 456h1v16h-1zM555 456h1v16h-1zM560 456h1v16h-1zM562 456h1v16h-1zM564 456h1v16h-1zM569 456h1v16h-1zM571 456h1v16h-1zM573 456h1v16h-1zM575 456h1v16h-1zM580 456h1v16h-1zM582 456h1v16h-1zM684 444h1v28h-1zM689 444h1v28h-1zM691 444h1v28h-1zM693 444h1v28h-1zM695 444h1v28h-1zM698 444h1v28h-1zM700 444h1v28h-1zM702 444h1v28h-1zM704 444h1v28h-1zM709 444h1v28h-1zM711 444h1v28h-1zM713 403h1v69h-1zM715 403h1v69h-1zM718 403h1v69h-1zM720 403h1v69h-1zM722 403h1v69h-1zM724 403h1v69h-1zM729 403h1v69h-1zM731 403h1v69h-1zM733 403h1v69h-1zM735 403h1v69h-1zM738 403h1v69h-1zM789 439h1v33h-1zM791 439h1v33h-1zM793 439h1v33h-1zM798 439h1v33h-1zM800 439h1v33h-1zM802 439h1v33h-1zM804 439h1v33h-1zM809 459h1v13h-1zM811 459h1v13h-1zM813 459h1v13h-1zM818 459h1v13h-1zM820 459h1v13h-1zM822 459h1v13h-1zM824 454h1v18h-1zM829 454h1v18h-1zM831 454h1v18h-1zM833 454h1v18h-1zM838 454h1v18h-1zM840 428h1v44h-1zM842 428h1v44h-1zM844 428h1v44h-1zM849 428h1v44h-1zM851 428h1v44h-1zM864 442h1v30h-1zM869 442h1v30h-1zM871 442h1v30h-1z"/>
<path fill="#277dae" d="M219 404h1v1h-1zM219 406h1v8h-1zM219 415h1v3h-1zM219 419h1v7h-1zM219 427h1v2h-1zM219 430h1v18h-1zM219 449h1v3h-1zM219 453h1v8h-1zM219 462h1v2h-1zM219 465h1v7h-1zM228 417h2v1h-2zM228 419h2v1h-2zM228 447h2v1h-2zM228 449h2v1h-2zM236 417h3v1h-3zM236 419h3v1h-3zM236 447h3v1h-3zM236 449h3v1h-3zM241 417h1v1h-1zM241 419h1v1h-1zM285 417h1v1h-1zM285 419h1v1h-1zM287 417h2v1h-2zM287 419h2v1h-2zM287 447h2v1h-2zM287 449h2v1h-2zM290 417h1v1h-1zM290 419h1v1h-1zM290 447h1v1h-1zM290 449h1v1h-1zM296 417h2v1h-2zM296 419h2v1h-2zM296 447h2v1h-2zM296 449h2v1h-2zM299 417h1v1h-1zM299 419h1v1h-1zM299 447h1v1h-1zM299 449h1v1h-1zM307 417h3v1h-3zM307 419h3v1h-3zM307 447h3v1h-3zM307 449h3v1h-3zM316 417h4v1h-4zM316 419h4v1h-4zM316 447h4v1h-4zM316 449h4v1h-4zM327 417h3v1h-3zM327 419h3v1h-3zM327 447h3v1h-3zM327 449h3v1h-3zM467 447h2v1h-2zM467 449h2v1h-2zM476 447h1v1h-1zM476 449h1v1h-1zM477 447h2v3h-2zM479 447h1v1h-1zM479 449h1v1h-1zM487 447h1v3h-1zM488 447h1v1h-1zM488 449h1v1h-1zM496 447h2v1h-2zM496 449h2v1h-2zM499 447h1v1h-1zM499 449h1v1h-1zM505 447h1v1h-1zM505 449h1v1h-1zM625 447h3v1h-3zM625 449h3v1h-3zM636 447h3v1h-3zM636 449h3v1h-3zM639 447h1v3h-1zM645 447h4v1h-4zM645 449h4v1h-4zM652 419h1v1h-1zM656 419h2v1h-2zM656 447h2v1h-2zM656 449h2v1h-2zM665 419h1v7h-1zM665 427h1v2h-1zM665 430h1v18h-1zM665 449h1v3h-1zM665 453h1v8h-1zM665 462h1v2h-1zM665 465h1v7h-1zM667 419h2v1h-2zM667 447h2v1h-2zM667 449h2v1h-2zM676 419h2v1h-2zM676 447h2v1h-2zM676 449h2v1h-2zM683 419h1v1h-1zM745 447h2v3h-2zM747 447h1v1h-1zM747 449h1v1h-1zM748 447h1v3h-1zM756 447h1v1h-1zM756 449h1v1h-1zM765 447h4v1h-4zM765 449h4v1h-4zM776 435h1v13h-1zM776 449h1v3h-1zM776 453h1v8h-1zM776 462h1v2h-1zM776 465h1v7h-1zM777 447h1v1h-1zM777 449h1v1h-1zM785 447h1v1h-1zM785 449h1v1h-1zM854 447h2v3h-2zM856 447h2v1h-2zM856 449h2v1h-2zM874 449h1v1h-1zM876 449h2v1h-2zM879 449h1v1h-1zM883 388h1v1h-1zM883 390h1v1h-1zM883 417h1v1h-1zM883 419h1v1h-1zM883 447h1v1h-1zM883 449h1v1h-1zM885 388h1v1h-1zM885 390h1v1h-1zM885 417h1v1h-1zM885 419h1v1h-1zM885 447h1v1h-1zM885 449h1v1h-1z"/>
<path fill="#008000" d="M220 404h1v68h-1zM222 404h1v68h-1zM224 404h1v68h-1zM226 404h1v68h-1zM231 404h1v68h-1zM233 404h1v68h-1zM235 404h1v68h-1zM240 404h1v68h-1zM286 413h1v59h-1zM291 413h1v59h-1zM293 413h1v59h-1zM295 413h1v59h-1zM300 413h1v59h-1zM302 413h1v59h-1zM304 413h1v59h-1zM306 413h1v59h-1zM311 413h1v59h-1zM313 413h1v59h-1zM315 413h1v59h-1zM320 413h1v59h-1zM322 413h1v59h-1zM324 413h1v59h-1zM326 413h1v59h-1zM464 428h1v44h-1zM466 428h1v44h-1zM469 428h1v44h-1zM471 428h1v44h-1zM473 428h1v44h-1zM475 428h1v44h-1zM480 428h1v44h-1zM482 428h1v44h-1zM484 428h1v44h-1zM486 428h1v44h-1zM489 428h1v44h-1zM491 428h1v44h-1zM493 428h1v44h-1zM495 428h1v44h-1zM500 428h1v44h-1zM502 428h1v44h-1zM504 428h1v44h-1zM584 456h1v16h-1zM589 456h1v16h-1zM591 456h1v16h-1zM593 456h1v16h-1zM595 456h1v16h-1zM600 456h1v16h-1zM602 456h1v16h-1zM604 456h1v16h-1zM609 456h1v16h-1zM611 456h1v16h-1zM613 456h1v16h-1zM615 456h1v16h-1zM620 439h1v33h-1zM622 439h1v33h-1zM624 439h1v33h-1zM629 439h1v33h-1zM631 439h1v33h-1zM633 439h1v33h-1zM635 439h1v33h-1zM640 439h1v33h-1zM642 439h1v33h-1zM644 439h1v33h-1zM649 439h1v33h-1zM651 439h1v33h-1zM653 419h1v53h-1zM655 419h1v53h-1zM658 419h1v53h-1zM660 419h1v53h-1zM662 419h1v53h-1zM664 419h1v53h-1zM669 419h1v53h-1zM671 419h1v53h-1zM673 419h1v53h-1zM675 419h1v53h-1zM678 419h1v53h-1zM680 419h1v53h-1zM682 419h1v53h-1zM740 431h1v41h-1zM742 431h1v41h-1zM744 431h1v41h-1zM749 431h1v41h-1zM751 431h1v41h-1zM753 431h1v41h-1zM755 431h1v41h-1zM758 431h1v41h-1zM760 431h1v41h-1zM762 431h1v41h-1zM764 435h1v37h-1zM769 435h1v37h-1zM771 435h1v37h-1zM773 435h1v37h-1zM775 435h1v37h-1zM778 435h1v37h-1zM780 435h1v37h-1zM782 435h1v37h-1zM784 435h1v37h-1zM853 438h1v34h-1zM858 438h1v34h-1zM860 438h1v34h-1zM862 438h1v34h-1zM873 449h1v23h-1zM878 449h1v23h-1zM880 453h1v19h-1zM882 453h1v19h-1zM884 368h1v104h-1z"/>
<path fill="#2a71ab" d="M243 427h1v45h-1zM245 427h1v45h-1zM252 427h1v45h-1zM254 427h1v45h-1zM261 427h1v45h-1zM263 427h1v45h-1zM265 427h1v45h-1zM272 427h1v45h-1zM274 427h1v45h-1zM281 427h1v45h-1zM283 427h1v45h-1zM332 440h1v32h-1zM334 440h1v32h-1zM341 440h1v32h-1zM343 440h1v32h-1zM345 440h1v32h-1zM352 440h1v32h-1zM354 440h1v32h-1zM361 440h1v32h-1zM363 440h1v32h-1zM365 440h1v32h-1zM370 440h1v32h-1zM372 440h1v32h-1zM374 449h1v23h-1zM381 449h1v23h-1zM383 449h1v23h-1zM385 449h1v23h-1zM390 449h1v23h-1zM392 449h1v23h-1zM394 449h1v23h-1zM401 449h1v23h-1zM403 449h1v23h-1zM405 449h1v23h-1zM410 449h1v23h-1zM412 449h1v23h-1zM414 449h1v23h-1zM421 444h1v28h-1zM423 444h1v28h-1zM425 444h1v28h-1zM430 444h1v28h-1zM432 444h1v28h-1zM434 444h1v28h-1zM441 444h1v28h-1zM443 444h1v28h-1zM445 444h1v28h-1zM450 444h1v28h-1zM452 444h1v28h-1zM454 444h1v28h-1zM461 444h1v28h-1zM510 458h1v14h-1zM512 458h1v14h-1zM514 458h1v14h-1zM521 458h1v14h-1zM523 458h1v14h-1zM530 458h1v14h-1zM532 458h1v14h-1zM534 458h1v14h-1zM541 458h1v14h-1zM543 458h1v14h-1zM550 456h1v16h-1zM552 456h1v16h-1zM554 456h1v16h-1zM561 456h1v16h-1zM563 456h1v16h-1zM570 456h1v16h-1zM572 456h1v16h-1zM574 456h1v16h-1zM581 456h1v16h-1zM690 444h1v28h-1zM692 444h1v28h-1zM694 444h1v28h-1zM699 444h1v28h-1zM701 444h1v28h-1zM703 444h1v28h-1zM710 444h1v28h-1zM712 444h1v28h-1zM714 403h1v69h-1zM719 403h1v69h-1zM721 403h1v69h-1zM723 403h1v69h-1zM730 403h1v69h-1zM732 403h1v69h-1zM734 403h1v69h-1zM790 439h1v33h-1zM792 439h1v33h-1zM799 439h1v33h-1zM801 439h1v33h-1zM803 439h1v33h-1zM810 459h1v13h-1zM812 459h1v13h-1zM819 459h1v13h-1zM821 459h1v13h-1zM823 459h1v13h-1zM830 454h1v18h-1zM832 454h1v18h-1zM839 454h1v18h-1zM841 428h1v44h-1zM843 428h1v44h-1zM850 428h1v44h-1zM870 442h1v30h-1z"/>
<path fill="#3377ae" d="M247 447h4v1h-4zM247 449h4v1h-4zM256 447h4v1h-4zM256 449h4v1h-4zM267 447h4v1h-4zM267 449h4v1h-4zM276 447h1v1h-1zM276 449h1v1h-1zM278 447h2v1h-2zM278 449h2v1h-2zM330 440h1v8h-1zM330 449h1v3h-1zM330 453h1v8h-1zM330 462h1v2h-1zM330 465h1v7h-1zM337 447h3v1h-3zM337 449h3v1h-3zM347 447h1v1h-1zM347 449h1v1h-1zM349 447h2v1h-2zM349 449h2v1h-2zM356 447h1v1h-1zM356 449h1v1h-1zM358 447h2v1h-2zM358 449h2v1h-2zM367 447h2v1h-2zM367 449h2v1h-2zM374 447h1v1h-1zM376 449h4v1h-4zM380 448h1v1h-1zM387 449h2v1h-2zM396 449h4v1h-4zM408 449h1v1h-1zM417 449h2v1h-2zM427 447h2v3h-2zM436 447h3v1h-3zM436 449h3v1h-3zM447 447h2v1h-2zM447 449h2v1h-2zM456 447h4v1h-4zM456 449h4v1h-4zM685 447h2v1h-2zM685 449h2v1h-2zM688 447h1v1h-1zM688 449h1v1h-1zM696 447h2v1h-2zM696 449h2v1h-2zM705 447h4v1h-4zM705 449h4v1h-4zM712 417h1v1h-1zM712 419h1v1h-1zM716 417h2v1h-2zM716 419h2v1h-2zM716 447h2v1h-2zM716 449h2v1h-2zM726 417h3v1h-3zM726 419h3v1h-3zM726 447h3v1h-3zM726 449h3v1h-3zM736 417h1v1h-1zM736 419h1v1h-1zM736 447h1v1h-1zM736 449h1v1h-1zM739 417h1v1h-1zM739 419h1v1h-1zM786 447h3v1h-3zM786 449h3v1h-3zM794 447h1v1h-1zM794 449h1v1h-1zM795 447h2v3h-2zM797 447h1v1h-1zM797 449h1v1h-1zM805 447h1v3h-1zM839 447h1v1h-1zM839 449h1v1h-1zM845 447h4v1h-4zM845 449h4v1h-4zM865 447h1v1h-1zM865 449h1v1h-1zM867 447h2v1h-2zM867 449h2v1h-2zM872 447h1v1h-1z"/>
<path fill="#3073ab" d="M243 426h1v1h-1zM245 426h1v1h-1zM252 426h1v1h-1zM254 426h1v1h-1zM261 426h1v1h-1zM263 426h1v1h-1zM265 426h1v1h-1zM272 426h1v1h-1zM274 426h1v1h-1zM281 426h1v1h-1zM283 426h1v1h-1zM334 439h1v1h-1zM341 439h1v1h-1zM343 439h1v1h-1zM345 439h1v1h-1zM352 439h1v1h-1zM354 439h1v1h-1zM361 439h1v1h-1zM363 439h1v1h-1zM365 439h1v1h-1zM370 439h1v1h-1zM372 439h1v1h-1zM383 448h1v1h-1zM392 448h1v1h-1zM421 443h1v1h-1zM423 443h1v1h-1zM425 443h1v1h-1zM430 443h1v1h-1zM432 443h1v1h-1zM434 443h1v1h-1zM445 443h1v1h-1zM450 443h1v1h-1zM452 443h1v1h-1zM454 443h1v1h-1zM461 443h1v1h-1zM510 457h1v1h-1zM512 457h1v1h-1zM514 457h1v1h-1zM521 457h1v1h-1zM523 457h1v1h-1zM530 457h1v1h-1zM532 457h1v1h-1zM534 457h1v1h-1zM541 457h1v1h-1zM543 457h1v1h-1zM550 455h1v1h-1zM561 455h1v1h-1zM563 455h1v1h-1zM570 455h1v1h-1zM572 455h1v1h-1zM574 455h1v1h-1zM581 455h1v1h-1zM690 443h1v1h-1zM692 443h1v1h-1zM694 443h1v1h-1zM699 443h1v1h-1zM701 443h1v1h-1zM703 443h1v1h-1zM710 443h1v1h-1zM714 402h1v1h-1zM719 402h1v1h-1zM721 402h1v1h-1zM723 402h1v1h-1zM730 402h1v1h-1zM732 402h1v1h-1zM734 402h1v1h-1zM790 438h1v1h-1zM792 438h1v1h-1zM799 438h1v1h-1zM801 438h1v1h-1zM803 438h1v1h-1zM810 458h1v1h-1zM812 458h1v1h-1zM819 458h1v1h-1zM821 458h1v1h-1zM830 453h1v1h-1zM832 453h1v1h-1zM841 427h1v1h-1zM843 427h1v1h-1zM850 427h1v1h-1zM870 441h1v1h-1z"/>
<path fill="#1d77ab" d="M221 404h1v68h-1zM223 404h1v68h-1zM225 404h1v68h-1zM232 404h1v68h-1zM234 404h1v68h-1zM292 413h1v59h-1zM294 413h1v59h-1zM301 413h1v59h-1zM303 413h1v59h-1zM305 413h1v59h-1zM312 413h1v59h-1zM314 413h1v59h-1zM321 413h1v59h-1zM323 413h1v59h-1zM325 413h1v59h-1zM465 428h1v44h-1zM470 428h1v44h-1zM472 428h1v44h-1zM474 428h1v44h-1zM481 428h1v44h-1zM483 428h1v44h-1zM485 428h1v44h-1zM490 428h1v44h-1zM492 428h1v44h-1zM494 428h1v44h-1zM501 428h1v44h-1zM503 428h1v44h-1zM590 456h1v16h-1zM592 456h1v16h-1zM594 456h1v16h-1zM601 456h1v16h-1zM603 456h1v16h-1zM610 456h1v16h-1zM612 456h1v16h-1zM614 456h1v16h-1zM621 439h1v33h-1zM623 439h1v33h-1zM630 439h1v33h-1zM632 439h1v33h-1zM634 439h1v33h-1zM641 439h1v33h-1zM643 439h1v33h-1zM650 439h1v33h-1zM652 439h1v33h-1zM654 419h1v53h-1zM659 419h1v53h-1zM661 419h1v53h-1zM663 419h1v53h-1zM670 419h1v53h-1zM672 419h1v53h-1zM674 419h1v53h-1zM679 419h1v53h-1zM681 419h1v53h-1zM741 431h1v41h-1zM743 431h1v41h-1zM750 431h1v41h-1zM752 431h1v41h-1zM754 431h1v41h-1zM759 431h1v41h-1zM761 431h1v41h-1zM763 435h1v37h-1zM770 435h1v37h-1zM772 435h1v37h-1zM774 435h1v37h-1zM779 435h1v37h-1zM781 435h1v37h-1zM783 435h1v37h-1zM859 438h1v34h-1zM861 438h1v34h-1zM879 453h1v19h-1zM881 453h1v19h-1zM883 453h1v19h-1z"/>
<path fill="#217aab" d="M221 403h1v1h-1zM223 403h1v1h-1zM225 403h1v1h-1zM232 403h1v1h-1zM234 403h1v1h-1zM292 412h1v1h-1zM294 412h1v1h-1zM301 412h1v1h-1zM303 412h1v1h-1zM305 412h1v1h-1zM312 412h1v1h-1zM314 412h1v1h-1zM321 412h1v1h-1zM323 412h1v1h-1zM325 412h1v1h-1zM465 427h1v1h-1zM470 427h1v1h-1zM472 427h1v1h-1zM474 427h1v1h-1zM481 427h1v1h-1zM483 427h1v1h-1zM485 427h1v1h-1zM490 427h1v1h-1zM492 427h1v1h-1zM494 427h1v1h-1zM501 427h1v1h-1zM503 427h1v1h-1zM590 455h1v1h-1zM592 455h1v1h-1zM594 455h1v1h-1zM601 455h1v1h-1zM603 455h1v1h-1zM610 455h1v1h-1zM612 455h1v1h-1zM614 455h1v1h-1zM621 438h1v1h-1zM623 438h1v1h-1zM630 438h1v1h-1zM632 438h1v1h-1zM634 438h1v1h-1zM641 438h1v1h-1zM643 438h1v1h-1zM650 438h1v1h-1zM654 418h1v1h-1zM663 418h1v1h-1zM741 430h1v1h-1zM743 430h1v1h-1zM750 430h1v1h-1zM752 430h1v1h-1zM754 430h1v1h-1zM759 430h1v1h-1zM761 430h1v1h-1zM770 434h1v1h-1zM772 434h1v1h-1zM774 434h1v1h-1zM779 434h1v1h-1zM781 434h1v1h-1zM783 434h1v1h-1zM859 437h1v1h-1zM861 437h1v1h-1zM881 452h1v1h-1z"/>
<path fill="#4a85b6" d="M247 426h4v1h-4zM256 426h4v1h-4zM267 426h4v1h-4zM276 426h4v1h-4zM336 439h4v1h-4zM347 439h4v1h-4zM356 439h4v1h-4zM367 439h2v1h-2zM374 439h1v1h-1zM407 448h1v1h-1zM416 448h1v1h-1zM419 443h1v1h-1zM427 443h2v1h-2zM436 443h4v1h-4zM447 443h2v1h-2zM456 443h4v1h-4zM506 457h3v1h-3zM516 457h4v1h-4zM525 457h4v1h-4zM536 457h4v1h-4zM545 457h1v1h-1zM546 455h3v1h-3zM556 455h4v1h-4zM565 455h4v1h-4zM576 455h4v1h-4zM685 443h4v1h-4zM696 443h2v1h-2zM705 443h4v1h-4zM712 402h1v1h-1zM716 402h2v1h-2zM725 402h4v1h-4zM736 402h2v1h-2zM739 402h1v1h-1zM786 438h3v1h-3zM794 438h4v1h-4zM805 438h1v1h-1zM806 458h3v1h-3zM814 458h4v1h-4zM823 453h1v1h-1zM825 453h4v1h-4zM834 453h4v1h-4zM839 427h1v1h-1zM845 427h4v1h-4zM852 427h1v1h-1zM865 441h4v1h-4zM872 441h1v1h-1z"/>
<path fill="#3074ab" d="M247 448h3v1h-3zM256 448h4v1h-4zM267 448h4v1h-4zM276 448h1v1h-1zM279 448h1v1h-1zM330 448h1v1h-1zM331 439h1v1h-1zM338 448h2v1h-2zM350 448h1v1h-1zM367 448h1v1h-1zM375 448h1v1h-1zM382 448h1v1h-1zM386 448h1v1h-1zM389 448h1v1h-1zM391 448h1v1h-1zM400 448h1v1h-1zM402 448h1v1h-1zM409 448h1v1h-1zM411 448h1v1h-1zM413 448h1v1h-1zM436 448h3v1h-3zM442 443h1v1h-1zM447 448h2v1h-2zM456 448h4v1h-4zM553 455h1v1h-1zM685 448h1v1h-1zM688 448h1v1h-1zM696 448h2v1h-2zM705 448h4v1h-4zM716 418h2v1h-2zM716 448h2v1h-2zM727 418h2v1h-2zM727 448h2v1h-2zM739 418h1v1h-1zM786 448h3v1h-3zM794 448h1v1h-1zM797 448h1v1h-1zM845 448h4v1h-4zM865 448h1v1h-1zM868 448h1v1h-1z"/>
<path fill="#2479ab" d="M236 418h2v1h-2zM236 448h2v1h-2zM296 418h1v1h-1zM296 448h1v1h-1zM307 418h2v1h-2zM307 448h2v1h-2zM316 418h4v1h-4zM316 448h4v1h-4zM327 418h3v1h-3zM327 448h3v1h-3zM468 448h1v1h-1zM479 448h1v1h-1zM496 448h1v1h-1zM505 448h1v1h-1zM625 448h2v1h-2zM636 448h3v1h-3zM645 448h4v1h-4zM656 448h2v1h-2zM658 418h1v1h-1zM660 418h1v1h-1zM668 448h1v1h-1zM669 418h1v1h-1zM671 418h1v1h-1zM673 418h1v1h-1zM680 418h1v1h-1zM682 418h1v1h-1zM747 448h1v1h-1zM765 448h3v1h-3zM775 434h1v1h-1zM776 448h2v1h-2zM856 448h2v1h-2zM873 448h1v1h-1zM883 389h1v1h-1zM883 418h1v1h-1zM883 448h1v1h-1zM885 389h1v1h-1zM885 418h1v1h-1zM885 448h1v1h-1z"/>
<path fill="#3e8bb6" d="M227 403h4v1h-4zM236 403h4v1h-4zM241 403h1v1h-1zM285 412h1v1h-1zM287 412h4v1h-4zM296 412h4v1h-4zM307 412h4v1h-4zM316 412h4v1h-4zM327 412h3v1h-3zM463 427h1v1h-1zM467 427h2v1h-2zM476 427h4v1h-4zM487 427h2v1h-2zM496 427h4v1h-4zM505 427h1v1h-1zM585 455h4v1h-4zM596 455h4v1h-4zM605 455h4v1h-4zM616 455h3v1h-3zM619 438h1v1h-1zM625 438h4v1h-4zM636 438h4v1h-4zM645 438h4v1h-4zM666 418h1v1h-1zM745 430h4v1h-4zM756 430h2v1h-2zM763 430h1v1h-1zM765 434h4v1h-4zM777 434h1v1h-1zM785 434h1v1h-1zM854 437h4v1h-4zM863 437h1v1h-1zM875 448h1v1h-1zM883 367h1v1h-1zM885 367h1v1h-1z"/>
<path fill="#257bac" d="M238 418h1v1h-1zM238 448h1v1h-1zM241 418h1v1h-1zM288 418h1v1h-1zM288 448h1v1h-1zM297 418h1v1h-1zM297 448h1v1h-1zM299 418h1v1h-1zM299 448h1v1h-1zM662 418h1v1h-1zM665 448h1v1h-1zM667 448h1v1h-1zM676 448h1v1h-1zM768 448h1v1h-1z"/>
<path fill="#247aab" d="M229 418h1v1h-1zM229 448h1v1h-1zM285 418h1v1h-1zM467 448h1v1h-1zM476 448h1v1h-1zM488 448h1v1h-1zM497 448h1v1h-1zM653 418h1v1h-1zM664 418h1v1h-1zM756 448h1v1h-1zM785 448h1v1h-1z"/>
<path fill="#267cad" d="M220 403h1v1h-1zM287 418h1v1h-1zM287 448h1v1h-1zM309 418h1v1h-1zM309 448h1v1h-1zM499 448h1v1h-1zM627 448h1v1h-1zM655 418h1v1h-1zM677 448h1v1h-1z"/>
<path fill="#3276ae" d="M278 448h1v1h-1zM368 448h1v1h-1zM384 448h1v1h-1zM686 448h1v1h-1zM736 418h1v1h-1zM736 448h1v1h-1z"/>
<path fill="#1e77ab" d="M285 427h1v45h-1zM463 444h1v28h-1zM583 456h1v16h-1zM739 431h1v41h-1zM852 438h1v34h-1zM872 449h1v23h-1z"/>
<path fill="#2f72ab" d="M332 439h1v1h-1zM381 448h1v1h-1zM441 443h1v1h-1zM443 443h1v1h-1zM552 455h1v1h-1zM554 455h1v1h-1z"/>
<path fill="#3276ad" d="M337 448h1v1h-1zM359 448h1v1h-1zM393 448h1v1h-1zM415 448h1v1h-1zM839 448h1v1h-1zM867 448h1v1h-1z"/>
<path fill="#3175ac" d="M347 448h1v1h-1zM349 448h1v1h-1zM358 448h1v1h-1zM712 418h1v1h-1zM726 418h1v1h-1zM726 448h1v1h-1z"/>
<path fill="#2e71a9" d="M385 448h1v1h-1zM390 448h1v1h-1zM401 448h1v1h-1zM410 448h1v1h-1zM412 448h1v1h-1zM414 448h1v1h-1z"/>
<path fill="#2078a9" d="M659 418h1v1h-1zM661 418h1v1h-1zM670 418h1v1h-1zM672 418h1v1h-1zM679 418h1v1h-1zM681 418h1v1h-1z"/>
<path fill="#2b71aa" d="M241 426h1v1h-1zM683 443h1v1h-1zM863 441h1v1h-1z"/>
<path fill="#2971ab" d="M241 427h1v45h-1zM683 444h1v28h-1zM863 442h1v30h-1z"/>
<path fill="#3275ad" d="M250 448h1v1h-1zM356 448h1v1h-1zM406 448h1v1h-1z"/>
<path fill="#3e79aa" d="M376 448h4v1h-4zM387 448h2v1h-2zM397 448h3v1h-3z"/>
<path fill="#327faa" d="M656 418h2v1h-2zM668 418h1v1h-1zM683 418h1v1h-1z"/>
<path fill="#3684ae" d="M667 418h1v1h-1zM877 448h1v1h-1zM879 448h1v1h-1z"/>
<path fill="#2b72ab" d="M712 443h1v1h-1zM823 458h1v1h-1zM839 453h1v1h-1z"/>
<path fill="#3d8ab5" d="M219 403h1v1h-1zM776 434h1v1h-1z"/>
<path fill="#277cae" d="M219 418h1v1h-1zM219 448h1v1h-1z"/>
<path fill="#267cae" d="M228 418h1v1h-1zM228 448h1v1h-1z"/>
<path fill="#1f78ab" d="M285 426h1v1h-1zM463 443h1v1h-1z"/>
<path fill="#267bad" d="M290 418h1v1h-1zM290 448h1v1h-1z"/>
<path fill="#2f71aa" d="M403 448h1v1h-1zM405 448h1v1h-1z"/>
<path fill="#1e78ab" d="M652 438h1v1h-1zM883 452h1v1h-1z"/>
<path fill="#3582ad" d="M676 418h1v1h-1zM874 448h1v1h-1z"/>
<path fill="#2077aa" d="M739 430h1v1h-1zM852 437h1v1h-1z"/>
<path fill="#1e78aa" d="M763 434h1v1h-1zM879 452h1v1h-1z"/>
<path fill="#4984b5" d="M330 439h1v1h-1z"/>
<path fill="#2c70a9" d="M374 448h1v1h-1z"/>
<path fill="#2e71aa" d="M394 448h1v1h-1z"/>
<path fill="#447fb0" d="M396 448h1v1h-1z"/>
<path fill="#427cad" d="M408 448h1v1h-1z"/>
<path fill="#407bac" d="M417 448h1v1h-1z"/>
<path fill="#4781b2" d="M418 448h1v1h-1z"/>
<path fill="#2379ab" d="M583 455h1v1h-1z"/>
<path fill="#3a87b2" d="M652 418h1v1h-1z"/>
<path fill="#3683ae" d="M665 418h1v1h-1z"/>
<path fill="#2079aa" d="M674 418h1v1h-1z"/>
<path fill="#3986b1" d="M677 418h1v1h-1z"/>
<path fill="#1f77a9" d="M872 448h1v1h-1z"/>
<path fill="#3885b0" d="M876 448h1v1h-1z"/></g>
<g id="ma" fill="none" stroke-width="1.099" stroke-linejoin="round" stroke-linecap="square" clip-path="url(#c1)"><polyline points="250.76,273.28 252.99,274.65 255.21,276.02 257.43,277.38 259.66,278.75 261.88,280.11 264.10,281.48 266.33,282.85 268.55,284.21 270.77,285.58 272.99,286.94 275.22,286.94 277.44,286.94 279.66,286.94 281.89,286.94 284.11,286.94 286.33,281.48 288.56,276.02 290.78,270.55 293.00,265.09 295.23,259.63 297.45,254.16 299.67,248.70 301.89,243.23 304.12,237.77 306.34,232.31 308.56,226.84 310.79,221.38 313.01,215.92 315.23,210.45 317.46,204.99 319.68,204.99 321.90,204.99 324.13,204.99 326.35,204.99 328.57,204.99 330.79,206.01 333.02,207.04 335.24,208.06 337.46,209.09 339.69,210.11 341.91,211.14 344.13,212.16 346.36,213.19 348.58,214.21 350.80,215.23 353.03,216.26 355.25,217.28 357.47,218.31 359.69,219.33 361.92,220.36 364.14,220.36 366.36,220.36 368.59,220.36 370.81,220.36 373.03,220.36 375.26,222.23 377.48,224.11 379.70,225.99 381.93,227.87 384.15,229.75 386.37,231.62 388.59,233.50 390.82,235.38 393.04,237.26 395.26,239.14 397.49,241.02 399.71,242.89 401.93,244.77 404.16,246.65 406.38,248.53 408.60,248.53 410.83,248.53 413.05,248.53 415.27,248.53 417.49,248.53 419.72,248.87 421.94,249.21 424.16,249.55 426.39,249.89 428.61,250.23 430.83,250.58 433.06,250.92 435.28,251.26 437.50,251.60 439.73,251.94 441.95,252.28 444.17,252.63 446.39,252.97 448.62,253.31 450.84,253.65 453.06,253.65 455.29,253.65 457.51,253.65 459.73,253.65 461.96,253.65 464.18,252.97 466.40,252.28 468.63,251.60 470.85,250.92 473.07,250.23 475.29,249.55 477.52,248.87 479.74,248.19 481.96,247.50 484.19,246.82 486.41,246.14 488.63,245.45 490.86,244.77 493.08,244.09 495.30,243.41 497.53,243.41 499.75,243.41 501.97,243.41 504.19,243.41 506.42,243.92 508.64,244.43 510.86,244.94 513.09,245.45 515.31,245.97 517.53,246.48 519.76,246.99 521.98,247.50 524.20,248.02 526.43,248.53 528.65,249.04 530.87,249.55 533.09,250.06 535.32,250.58 537.54,251.09 539.76,251.09 541.99,251.09 544.21,251.09 546.43,252.28 548.66,253.48 550.88,254.67 553.10,255.87 555.33,257.06 557.55,258.26 559.77,259.45 562.00,260.65 564.22,261.84 566.44,263.04 568.66,264.24 570.89,265.43 573.11,266.63 575.33,267.82 577.56,269.02 579.78,269.02 582.00,269.02 584.23,267.31 586.45,265.60 588.67,263.89 590.90,262.19 593.12,260.48 595.34,258.77 597.56,257.06 599.79,255.36 602.01,253.65 604.23,251.94 606.46,250.23 608.68,248.53 610.90,246.82 613.13,245.11 615.35,243.41 617.57,243.41 619.80,242.21 622.02,241.02 624.24,239.82 626.46,238.62 628.69,237.43 630.91,236.23 633.13,235.04 635.36,233.84 637.58,232.65 639.80,231.45 642.03,230.26 644.25,229.06 646.47,227.87 648.70,226.67 650.92,225.48 653.14,222.75 655.36,220.01 657.59,217.28 659.81,214.55 662.03,211.82 664.26,209.09 666.48,206.36 668.70,203.62 670.93,200.89 673.15,198.16 675.37,195.43 677.60,192.70 679.82,189.97 682.04,187.23 684.26,187.75 686.49,190.99 688.71,194.23 690.93,197.48 693.16,200.72 695.38,203.97 697.60,207.21 699.83,210.45 702.05,213.70 704.27,216.94 706.50,220.19 708.72,223.43 710.94,226.67 713.16,234.87 715.39,243.06 717.61,248.02 719.83,252.97 722.06,257.92 724.28,262.87 726.50,267.82 728.73,272.77 730.95,277.72 733.17,282.67 735.40,287.63 737.62,292.58 739.84,298.21 742.06,303.85 744.29,309.48 746.51,310.16 748.73,310.85 750.96,311.53 753.18,312.21 755.40,312.89 757.63,313.58 759.85,314.26 762.07,314.94 764.30,312.89 766.52,310.85 768.74,308.80 770.96,306.75 773.19,304.02 775.41,301.28 777.63,298.55 779.86,295.82 782.08,293.09 784.30,290.36 786.53,286.60 788.75,282.85 790.97,279.09 793.20,275.33 795.42,271.58 797.64,270.55 799.86,269.53 802.09,268.50 804.31,267.48 806.53,267.31 808.76,267.14 810.98,266.97 813.20,266.80 815.43,266.63 817.65,266.45 819.87,267.31 822.10,268.16 824.32,271.06 826.54,273.97 828.76,276.87 830.99,279.77 833.21,282.67 835.43,285.58 837.66,288.48 839.88,291.89 842.10,295.31 844.33,298.72 846.55,302.14 848.77,305.55 851.00,308.97 853.22,309.48 855.44,309.99 857.66,308.46 859.89,306.92 862.11,305.38 864.33,304.53 866.56,303.67 868.78,302.82 871.00,301.97 873.23,297.70 875.45,293.43 877.67,289.16 879.90,283.53 882.12,277.89 884.34,265.09" stroke="#0000ff"/><polyline points="284.11,280.11 286.33,278.06 288.56,276.02 290.78,273.97 293.00,271.92 295.23,269.87 297.45,267.82 299.67,265.77 301.89,263.72 304.12,261.67 306.34,259.63 308.56,256.89 310.79,254.16 313.01,251.43 315.23,248.70 317.46,245.97 319.68,243.23 321.90,240.50 324.13,237.77 326.35,235.04 328.57,232.31 330.79,230.09 333.02,227.87 335.24,225.65 337.46,223.43 339.69,221.21 341.91,218.99 344.13,216.77 346.36,214.55 348.58,212.33 350.80,210.11 353.03,210.62 355.25,211.14 357.47,211.65 359.69,212.16 361.92,212.67 364.14,213.19 366.36,213.70 368.59,214.21 370.81,214.72 373.03,215.23 375.26,216.69 377.48,218.14 379.70,219.59 381.93,221.04 384.15,222.49 386.37,223.94 388.59,225.39 390.82,226.84 393.04,228.30 395.26,229.75 397.49,230.69 399.71,231.62 401.93,232.56 404.16,233.50 406.38,234.44 408.60,235.38 410.83,236.32 413.05,237.26 415.27,238.20 417.49,239.14 419.72,240.25 421.94,241.36 424.16,242.47 426.39,243.58 428.61,244.69 430.83,245.80 433.06,246.91 435.28,248.02 437.50,249.13 439.73,250.23 441.95,250.41 444.17,250.58 446.39,250.75 448.62,250.92 450.84,251.09 453.06,251.26 455.29,251.43 457.51,251.60 459.73,251.77 461.96,251.94 464.18,251.77 466.40,251.60 468.63,251.43 470.85,251.26 473.07,251.09 475.29,250.92 477.52,250.75 479.74,250.58 481.96,250.41 484.19,250.23 486.41,249.89 488.63,249.55 490.86,249.21 493.08,248.87 495.30,248.53 497.53,248.19 499.75,247.84 501.97,247.50 504.19,247.16 506.42,247.08 508.64,246.99 510.86,246.91 513.09,246.82 515.31,246.73 517.53,246.65 519.76,246.56 521.98,246.48 524.20,246.39 526.43,246.31 528.65,246.22 530.87,246.48 533.09,246.73 535.32,246.99 537.54,247.25 539.76,247.50 541.99,247.76 544.21,248.02 546.43,248.87 548.66,249.72 550.88,250.58 553.10,251.43 555.33,252.28 557.55,253.14 559.77,253.99 562.00,254.84 564.22,255.70 566.44,256.55 568.66,257.41 570.89,258.26 573.11,258.86 575.33,259.45 577.56,260.05 579.78,260.65 582.00,261.25 584.23,260.99 586.45,260.73 588.67,260.48 590.90,260.22 593.12,259.97 595.34,259.71 597.56,259.45 599.79,259.20 602.01,258.94 604.23,258.69 606.46,258.43 608.68,258.17 610.90,257.92 613.13,257.06 615.35,256.21 617.57,255.36 619.80,253.91 622.02,252.45 624.24,251.00 626.46,249.55 628.69,248.10 630.91,246.65 633.13,245.20 635.36,243.75 637.58,242.30 639.80,240.84 642.03,239.39 644.25,237.94 646.47,236.49 648.70,235.04 650.92,234.44 653.14,232.48 655.36,230.51 657.59,228.55 659.81,226.59 662.03,224.62 664.26,222.66 666.48,220.70 668.70,218.73 670.93,216.77 673.15,214.81 675.37,212.84 677.60,210.88 679.82,208.92 682.04,206.95 684.26,206.61 686.49,206.87 688.71,207.12 690.93,207.38 693.16,207.64 695.38,207.89 697.60,208.15 699.83,208.40 702.05,208.66 704.27,208.92 706.50,209.17 708.72,209.43 710.94,209.69 713.16,212.42 715.39,215.15 717.61,217.88 719.83,221.98 722.06,226.08 724.28,230.17 726.50,234.27 728.73,238.37 730.95,242.47 733.17,246.56 735.40,250.66 737.62,254.76 739.84,259.20 742.06,263.64 744.29,268.08 746.51,272.52 748.73,276.95 750.96,279.77 753.18,282.59 755.40,285.41 757.63,288.22 759.85,291.04 762.07,293.86 764.30,295.31 766.52,296.76 768.74,298.21 770.96,299.66 773.19,301.11 775.41,302.56 777.63,304.02 779.86,302.99 782.08,301.97 784.30,300.94 786.53,299.41 788.75,297.87 790.97,296.33 793.20,294.80 795.42,293.26 797.64,291.72 799.86,290.19 802.09,288.65 804.31,287.11 806.53,285.66 808.76,284.21 810.98,282.76 813.20,281.31 815.43,279.86 817.65,278.41 819.87,276.95 822.10,275.50 824.32,275.08 826.54,274.65 828.76,274.22 830.99,275.16 833.21,276.10 835.43,277.04 837.66,277.98 839.88,279.60 842.10,281.22 844.33,282.85 846.55,284.47 848.77,286.09 851.00,287.71 853.22,288.39 855.44,289.08 857.66,289.76 859.89,290.44 862.11,291.13 864.33,292.15 866.56,293.17 868.78,294.20 871.00,295.22 873.23,294.80 875.45,294.37 877.67,293.94 879.90,292.83 882.12,291.72 884.34,287.03" stroke="#ffa500"/><polyline points="350.80,245.11 353.03,244.34 355.25,243.58 357.47,242.81 359.69,242.04 361.92,241.27 364.14,240.50 366.36,239.73 368.59,238.97 370.81,238.20 373.03,237.43 375.26,236.79 377.48,236.15 379.70,235.51 381.93,234.87 384.15,234.23 386.37,233.59 388.59,232.95 390.82,232.31 393.04,231.67 395.26,231.03 397.49,230.39 399.71,229.75 401.93,229.11 404.16,228.47 406.38,227.83 408.60,227.19 410.83,226.55 413.05,225.91 415.27,225.26 417.49,224.62 419.72,225.44 421.94,226.25 424.16,227.06 426.39,227.87 428.61,228.68 430.83,229.49 433.06,230.30 435.28,231.11 437.50,231.92 439.73,232.73 441.95,233.55 444.17,234.36 446.39,235.17 448.62,235.98 450.84,236.79 453.06,237.60 455.29,238.41 457.51,239.22 459.73,240.03 461.96,240.84 464.18,241.23 466.40,241.61 468.63,242.00 470.85,242.38 473.07,242.77 475.29,243.15 477.52,243.53 479.74,243.92 481.96,244.30 484.19,244.69 486.41,245.07 488.63,245.45 490.86,245.84 493.08,246.22 495.30,246.61 497.53,246.99 499.75,247.37 501.97,247.76 504.19,248.14 506.42,248.66 508.64,248.70 510.86,248.74 513.09,248.78 515.31,248.83 517.53,248.87 519.76,248.91 521.98,248.95 524.20,249.00 526.43,249.04 528.65,249.08 530.87,249.13 533.09,249.17 535.32,249.21 537.54,249.25 539.76,249.30 541.99,249.34 544.21,249.38 546.43,249.72 548.66,250.06 550.88,250.41 553.10,250.66 555.33,250.92 557.55,251.17 559.77,251.43 562.00,251.69 564.22,251.94 566.44,252.20 568.66,252.45 570.89,252.71 573.11,252.97 575.33,253.22 577.56,253.48 579.78,253.73 582.00,253.99 584.23,253.82 586.45,253.65 588.67,253.48 590.90,253.31 593.12,253.14 595.34,252.97 597.56,252.97 599.79,252.97 602.01,252.97 604.23,252.97 606.46,252.97 608.68,252.97 610.90,252.97 613.13,252.97 615.35,252.97 617.57,252.97 619.80,252.67 622.02,252.37 624.24,252.07 626.46,251.77 628.69,251.47 630.91,251.17 633.13,250.88 635.36,250.58 637.58,250.28 639.80,249.85 642.03,249.42 644.25,249.00 646.47,248.57 648.70,248.14 650.92,247.72 653.14,246.61 655.36,245.50 657.59,244.39 659.81,243.28 662.03,242.17 664.26,241.06 666.48,239.95 668.70,238.84 670.93,237.73 673.15,236.62 675.37,235.51 677.60,234.40 679.82,232.99 682.04,231.58 684.26,230.98 686.49,230.39 688.71,229.79 690.93,229.19 693.16,228.59 695.38,228.00 697.60,227.40 699.83,226.80 702.05,226.20 704.27,225.61 706.50,225.01 708.72,224.41 710.94,223.81 713.16,224.45 715.39,225.09 717.61,226.16 719.83,227.23 722.06,228.30 724.28,229.36 726.50,230.43 728.73,231.50 730.95,232.56 733.17,233.63 735.40,234.70 737.62,235.77 739.84,237.00 742.06,238.24 744.29,239.48 746.51,240.72 748.73,241.95 750.96,243.19 753.18,244.73 755.40,246.27 757.63,247.80 759.85,249.34 762.07,250.88 764.30,251.73 766.52,252.58 768.74,253.44 770.96,254.29 773.19,255.14 775.41,256.00 777.63,256.85 779.86,257.70 782.08,258.56 784.30,259.41 786.53,260.69 788.75,261.97 790.97,263.25 793.20,264.53 795.42,265.81 797.64,267.09 799.86,268.38 802.09,269.66 804.31,270.94 806.53,272.43 808.76,273.92 810.98,275.42 813.20,276.91 815.43,278.41 817.65,279.09 819.87,279.77 822.10,280.45 824.32,281.65 826.54,282.85 828.76,284.04 830.99,285.24 833.21,286.43 835.43,287.63 837.66,288.82 839.88,290.36 842.10,291.89 844.33,293.43 846.55,293.73 848.77,294.03 851.00,294.33 853.22,293.90 855.44,293.47 857.66,293.05 859.89,292.62 862.11,292.19 864.33,291.94 866.56,291.68 868.78,291.42 871.00,291.17 873.23,290.23 875.45,289.29 877.67,288.35 879.90,287.07 882.12,285.79 884.34,282.72" stroke="#800080"/></g>
<g id="spines" fill="#000"><rect x="183.944" y="68.944" width="1.111" height="404.111"/><rect x="919.944" y="68.944" width="1.111" height="404.111"/><rect x="183.944" y="68.944" width="737.111" height="1.111"/><rect x="183.944" y="356.944" width="737.111" height="1.111"/><rect x="183.944" y="356.944" width="737.111" height="1.111"/><rect x="183.944" y="471.944" width="737.111" height="1.111"/></g>
<g id="ticks" fill="#000"><rect x="219.944" y="472.500" width="1.111" height="5.000"/><rect x="330.944" y="472.500" width="1.111" height="5.000"/><rect x="441.944" y="472.500" width="1.111" height="5.000"/><rect x="552.944" y="472.500" width="1.111" height="5.000"/><rect x="663.944" y="472.500" width="1.111" height="5.000"/><rect x="774.944" y="472.500" width="1.111" height="5.000"/><rect x="886.944" y="472.500" width="1.111" height="5.000"/><rect x="179.500" y="335.944" width="5.000" height="1.111"/><rect x="179.500" y="296.944" width="5.000" height="1.111"/><rect x="179.500" y="258.944" width="5.000" height="1.111"/><rect x="179.500" y="219.944" width="5.000" height="1.111"/><rect x="179.500" y="181.944" width="5.000" height="1.111"/><rect x="179.500" y="143.944" width="5.000" height="1.111"/><rect x="179.500" y="104.944" width="5.000" height="1.111"/><rect x="179.500" y="447.944" width="5.000" height="1.111"/><rect x="179.500" y="417.944" width="5.000" height="1.111"/><rect x="179.500" y="388.944" width="5.000" height="1.111"/><rect x="179.500" y="359.944" width="5.000" height="1.111"/></g>
<g id="labels" font-size="13.89px" fill="#000"><text x="131.01 138.76 147.63 156.51 165.26" y="340.55">49650</text><text x="130.96 138.71 147.58 156.46 165.21" y="302.64">49675</text><text x="130.94 138.69 147.56 156.32 165.06" y="263.52">49700</text><text x="130.94 138.69 147.56 156.31 165.06" y="225.53">49725</text><text x="130.88 139.12 147.50 156.25 165.00" y="186.61">49750</text><text x="131.07 138.82 147.69 156.45 165.19" y="148.50">49775</text><text x="131.11 138.86 147.73 156.61 165.36" y="110.53">49800</text><text x="140.33 147.71 156.45 165.21" y="452.67">1000</text><text x="138.97 147.72 156.47 165.22" y="423.61">2000</text><text x="139.00 146.75 155.50 164.25" y="394.56">3000</text><text x="139.90 147.65 156.40 165.15" y="364.53">4000</text><text transform="translate(218.36,501.18) rotate(-45)" x="-19.88 -10.99 -2.25 2.38 11.12" y="5.06">10:00</text><text transform="translate(329.28,500.98) rotate(-45)" x="-19.94 -11.06 -2.32 2.31 11.06" y="5.06">10:09</text><text transform="translate(440.45,501.13) rotate(-45)" x="-19.94 -11.06 -2.32 2.31 11.18" y="5.06">10:15</text><text transform="translate(551.40,501.13) rotate(-45)" x="-19.88 -10.99 -2.25 2.38 11.12" y="5.06">10:24</text><text transform="translate(663.46,501.14) rotate(-45)" x="-19.88 -10.99 -2.25 2.38 11.12" y="5.06">10:33</text><text transform="translate(774.39,501.12) rotate(-45)" x="-19.88 -10.99 -2.25 2.38 11.12" y="5.06">10:45</text><text transform="translate(121.53,216.05) rotate(-90)" x="-16.94 -8.82 -3.06 0.81 8.44" y="0">Price</text><text transform="translate(129.66,416.33) rotate(-90)" x="-25.75 -17.37 -8.87 -5.00 3.75 17.25" y="0">Volume</text></g>
<text id="title" transform="translate(0,16.00) scale(1,1.08)" x="230.01 242.51 253.13 263.76 274.26 288.63 300.13 305.39 316.01 326.63 332.51 346.89 351.51 362.01 372.51 379.01 389.26 394.51 406.01 416.51 426.63 433.51 440.01 445.26 451.63 462.26 472.76 483.39 493.89 499.76 510.39 521.01 526.89 537.39 548.01 553.26 563.76 574.26 580.01 590.51 601.01 615.01 625.63 636.13 641.89 652.39 662.89 669.39 674.63 680.51 685.76 700.13 711.51 716.76 726.89 737.39 742.63 755.13 763.89 775.89 781.51" y="0" font-size="16.67px" fill="#000">N225MC 12-Minute Chart (2025-12-03 09:00~10:00) - MA on HLC/3</text>
</svg>
</body></html>
